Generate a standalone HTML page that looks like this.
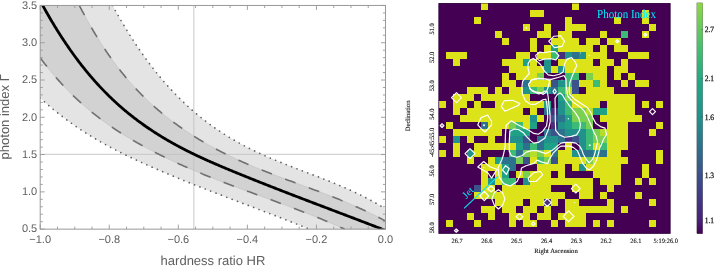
<!DOCTYPE html>
<html><head><meta charset="utf-8"><style>
html,body{margin:0;padding:0;background:#fff;}
body{width:714px;height:268px;overflow:hidden;}
svg{display:block;will-change:transform;text-rendering:geometricPrecision;}
</style></head><body>
<svg width="714" height="268" viewBox="0 0 714 268" xmlns="http://www.w3.org/2000/svg">
<defs>
<clipPath id="pc"><rect x="40.2" y="5.45" width="345.30" height="223.70000000000002"/></clipPath>
<clipPath id="ic"><rect x="438.5" y="3.1" width="231.99" height="230.67"/></clipPath>
<linearGradient id="cbg" x1="0" y1="0" x2="0" y2="1"><stop offset="0.0000" stop-color="#8fd744"/>
<stop offset="0.1780" stop-color="#4cc26c"/>
<stop offset="0.3339" stop-color="#22a884"/>
<stop offset="0.5071" stop-color="#218f8d"/>
<stop offset="0.7410" stop-color="#3b528b"/>
<stop offset="0.9402" stop-color="#48227a"/>
<stop offset="1.0000" stop-color="#440154"/></linearGradient>
</defs>
<g clip-path="url(#pc)">
<path d="M105.10,-8.86 L105.68,-7.73 L106.26,-6.60 L106.83,-5.48 L107.41,-4.36 L107.99,-3.24 L108.57,-2.14 L109.15,-1.03 L109.72,0.06 L110.30,1.15 L110.88,2.24 L111.46,3.32 L112.04,4.40 L112.61,5.47 L113.19,6.53 L113.77,7.59 L114.35,8.65 L114.93,9.70 L115.50,10.74 L116.08,11.78 L116.66,12.82 L117.24,13.85 L117.82,14.87 L118.39,15.89 L118.97,16.90 L119.55,17.91 L120.13,18.92 L120.70,19.91 L121.28,20.91 L121.86,21.90 L122.44,22.88 L123.02,23.86 L123.59,24.83 L124.17,25.80 L124.75,26.77 L125.33,27.73 L125.91,28.68 L126.48,29.63 L127.06,30.57 L127.64,31.51 L128.22,32.45 L128.80,33.38 L129.37,34.31 L129.95,35.23 L130.53,36.14 L131.11,37.05 L131.69,37.96 L132.26,38.86 L132.84,39.76 L133.42,40.65 L134.00,41.54 L134.58,42.42 L135.15,43.30 L135.73,44.18 L136.31,45.05 L136.89,45.91 L137.47,46.77 L138.04,47.63 L138.62,48.48 L139.20,49.33 L139.78,50.17 L140.36,51.01 L140.93,51.84 L141.51,52.67 L142.09,53.49 L142.67,54.31 L143.25,55.13 L143.82,55.94 L144.40,56.75 L144.98,57.55 L145.56,58.35 L146.13,59.15 L146.71,59.94 L147.29,60.72 L147.87,61.50 L148.45,62.28 L149.02,63.06 L149.60,63.82 L150.18,64.59 L150.76,65.35 L151.34,66.11 L151.91,66.86 L152.49,67.61 L153.07,68.35 L153.65,69.09 L154.23,69.83 L154.80,70.56 L155.38,71.29 L155.96,72.01 L156.54,72.73 L157.12,73.45 L157.69,74.16 L158.27,74.87 L158.85,75.58 L159.43,76.28 L160.01,76.97 L160.58,77.67 L161.16,78.36 L161.74,79.04 L162.32,79.72 L162.90,80.40 L163.47,81.07 L164.05,81.74 L164.63,82.41 L165.21,83.07 L165.79,83.73 L166.36,84.39 L166.94,85.04 L167.52,85.69 L168.10,86.33 L168.68,86.97 L169.25,87.61 L169.83,88.24 L170.41,88.87 L170.99,89.50 L171.56,90.12 L172.14,90.74 L172.72,91.35 L173.30,91.97 L173.88,92.57 L174.45,93.18 L175.03,93.78 L175.61,94.38 L176.19,94.97 L176.77,95.57 L177.34,96.15 L177.92,96.74 L178.50,97.32 L179.08,97.90 L179.66,98.47 L180.23,99.04 L180.81,99.61 L181.39,100.18 L181.97,100.74 L182.55,101.30 L183.12,101.85 L183.70,102.41 L184.28,102.95 L184.86,103.50 L185.44,104.04 L186.01,104.58 L186.59,105.12 L187.17,105.65 L187.75,106.18 L188.33,106.71 L188.90,107.23 L189.48,107.75 L190.06,108.27 L190.64,108.79 L191.22,109.30 L191.79,109.81 L192.37,110.31 L192.95,110.82 L193.53,111.32 L194.11,111.82 L194.68,112.31 L195.26,112.80 L195.84,113.29 L196.42,113.78 L196.99,114.26 L197.57,114.74 L198.15,115.22 L198.73,115.69 L199.31,116.17 L199.88,116.63 L200.46,117.10 L201.04,117.57 L201.62,118.03 L202.20,118.49 L202.77,118.94 L203.35,119.40 L203.93,119.85 L204.51,120.29 L205.09,120.74 L205.66,121.18 L206.24,121.62 L206.82,122.06 L207.40,122.50 L207.98,122.93 L208.55,123.36 L209.13,123.79 L209.71,124.21 L210.29,124.64 L210.87,125.06 L211.44,125.48 L212.02,125.89 L212.60,126.30 L213.18,126.72 L213.76,127.12 L214.33,127.53 L214.91,127.93 L215.49,128.34 L216.07,128.74 L216.65,129.13 L217.22,129.53 L217.80,129.92 L218.38,130.31 L218.96,130.70 L219.54,131.08 L220.11,131.47 L220.69,131.85 L221.27,132.23 L221.85,132.60 L222.43,132.98 L223.00,133.35 L223.58,133.72 L224.16,134.09 L224.74,134.46 L225.31,134.82 L225.89,135.18 L226.47,135.54 L227.05,135.90 L227.63,136.26 L228.20,136.61 L228.78,136.97 L229.36,137.32 L229.94,137.66 L230.52,138.01 L231.09,138.36 L231.67,138.70 L232.25,139.04 L232.83,139.38 L233.41,139.71 L233.98,140.05 L234.56,140.38 L235.14,140.71 L235.72,141.04 L236.30,141.37 L236.87,141.70 L237.45,142.02 L238.03,142.34 L238.61,142.66 L239.19,142.98 L239.76,143.30 L240.34,143.62 L240.92,143.93 L241.50,144.24 L242.08,144.55 L242.65,144.86 L243.23,145.17 L243.81,145.48 L244.39,145.78 L244.97,146.08 L245.54,146.39 L246.12,146.68 L246.70,146.98 L247.28,147.28 L247.86,147.57 L248.43,147.87 L249.01,148.16 L249.59,148.45 L250.17,148.74 L250.74,149.03 L251.32,149.31 L251.90,149.60 L252.48,149.88 L253.06,150.17 L253.63,150.45 L254.21,150.73 L254.79,151.00 L255.37,151.28 L255.95,151.56 L256.52,151.83 L257.10,152.10 L257.68,152.38 L258.26,152.65 L258.84,152.92 L259.41,153.19 L259.99,153.45 L260.57,153.72 L261.15,153.98 L261.73,154.25 L262.30,154.51 L262.88,154.77 L263.46,155.03 L264.04,155.29 L264.62,155.55 L265.19,155.81 L265.77,156.06 L266.35,156.32 L266.93,156.57 L267.51,156.82 L268.08,157.08 L268.66,157.33 L269.24,157.58 L269.82,157.83 L270.40,158.07 L270.97,158.32 L271.55,158.57 L272.13,158.81 L272.71,159.06 L273.29,159.30 L273.86,159.55 L274.44,159.79 L275.02,160.03 L275.60,160.27 L276.17,160.51 L276.75,160.75 L277.33,160.99 L277.91,161.22 L278.49,161.46 L279.06,161.70 L279.64,161.93 L280.22,162.17 L280.80,162.40 L281.38,162.64 L281.95,162.87 L282.53,163.10 L283.11,163.33 L283.69,163.56 L284.27,163.79 L284.84,164.03 L285.42,164.25 L286.00,164.48 L286.58,164.71 L287.16,164.94 L287.73,165.17 L288.31,165.39 L288.89,165.62 L289.47,165.85 L290.05,166.07 L290.62,166.30 L291.20,166.52 L291.78,166.75 L292.36,166.97 L292.94,167.20 L293.51,167.42 L294.09,167.64 L294.67,167.87 L295.25,168.09 L295.83,168.31 L296.40,168.53 L296.98,168.75 L297.56,168.98 L298.14,169.20 L298.72,169.42 L299.29,169.64 L299.87,169.86 L300.45,170.08 L301.03,170.30 L301.61,170.52 L302.18,170.74 L302.76,170.96 L303.34,171.18 L303.92,171.40 L304.49,171.62 L305.07,171.84 L305.65,172.06 L306.23,172.28 L306.81,172.50 L307.38,172.72 L307.96,172.94 L308.54,173.16 L309.12,173.38 L309.70,173.60 L310.27,173.82 L310.85,174.04 L311.43,174.26 L312.01,174.49 L312.59,174.71 L313.16,174.93 L313.74,175.15 L314.32,175.37 L314.90,175.59 L315.48,175.81 L316.05,176.04 L316.63,176.26 L317.21,176.48 L317.79,176.70 L318.37,176.93 L318.94,177.15 L319.52,177.37 L320.10,177.60 L320.68,177.82 L321.26,178.05 L321.83,178.27 L322.41,178.50 L322.99,178.73 L323.57,178.95 L324.15,179.18 L324.72,179.41 L325.30,179.63 L325.88,179.86 L326.46,180.09 L327.04,180.32 L327.61,180.55 L328.19,180.78 L328.77,181.01 L329.35,181.25 L329.92,181.48 L330.50,181.71 L331.08,181.94 L331.66,182.18 L332.24,182.41 L332.81,182.65 L333.39,182.89 L333.97,183.12 L334.55,183.36 L335.13,183.60 L335.70,183.84 L336.28,184.08 L336.86,184.32 L337.44,184.56 L338.02,184.80 L338.59,185.05 L339.17,185.29 L339.75,185.53 L340.33,185.78 L340.91,186.03 L341.48,186.27 L342.06,186.52 L342.64,186.77 L343.22,187.02 L343.80,187.27 L344.37,187.52 L344.95,187.78 L345.53,188.03 L346.11,188.29 L346.69,188.54 L347.26,188.80 L347.84,189.06 L348.42,189.32 L349.00,189.58 L349.58,189.84 L350.15,190.10 L350.73,190.37 L351.31,190.63 L351.89,190.90 L352.47,191.16 L353.04,191.43 L353.62,191.70 L354.20,191.97 L354.78,192.24 L355.35,192.52 L355.93,192.79 L356.51,193.07 L357.09,193.35 L357.67,193.62 L358.24,193.90 L358.82,194.18 L359.40,194.47 L359.98,194.75 L360.56,195.04 L361.13,195.32 L361.71,195.61 L362.29,195.90 L362.87,196.19 L363.45,196.48 L364.02,196.78 L364.60,197.07 L365.18,197.37 L365.76,197.67 L366.34,197.97 L366.91,198.27 L367.49,198.57 L368.07,198.88 L368.65,199.18 L369.23,199.49 L369.80,199.80 L370.38,200.11 L370.96,200.42 L371.54,200.74 L372.12,201.05 L372.69,201.37 L373.27,201.69 L373.85,202.01 L374.43,202.33 L375.01,202.66 L375.58,202.98 L376.16,203.31 L376.74,203.64 L377.32,203.97 L377.90,204.31 L378.47,204.64 L379.05,204.98 L379.63,205.32 L380.21,205.66 L380.78,206.00 L381.36,206.34 L381.94,206.69 L382.52,207.04 L383.10,207.39 L383.67,207.74 L384.25,208.10 L384.83,208.45 L385.41,208.81 L385.99,209.17 L386.56,209.53 L387.14,209.90 L387.72,210.27 L388.30,210.63 L388.88,211.01 L389.45,211.38 L390.03,211.75 L390.61,212.13 L391.19,212.51 L391.77,212.89 L392.34,213.27 L392.92,213.66 L393.50,214.05 L600.00,214.05 L600.00,600.00 L317.70,600.00 L317.70,232.53 L317.13,232.29 L316.55,232.06 L315.98,231.82 L315.41,231.59 L314.84,231.35 L314.26,231.12 L313.69,230.88 L313.12,230.65 L312.55,230.41 L311.97,230.18 L311.40,229.95 L310.83,229.71 L310.26,229.48 L309.68,229.25 L309.11,229.01 L308.54,228.78 L307.97,228.55 L307.39,228.32 L306.82,228.09 L306.25,227.86 L305.68,227.63 L305.10,227.40 L304.53,227.17 L303.96,226.94 L303.39,226.71 L302.81,226.48 L302.24,226.25 L301.67,226.02 L301.10,225.79 L300.52,225.56 L299.95,225.34 L299.38,225.11 L298.81,224.88 L298.23,224.65 L297.66,224.43 L297.09,224.20 L296.52,223.97 L295.94,223.75 L295.37,223.52 L294.80,223.29 L294.23,223.07 L293.65,222.84 L293.08,222.62 L292.51,222.39 L291.94,222.17 L291.36,221.94 L290.79,221.72 L290.22,221.49 L289.65,221.27 L289.07,221.05 L288.50,220.82 L287.93,220.60 L287.36,220.38 L286.78,220.15 L286.21,219.93 L285.64,219.71 L285.06,219.48 L284.49,219.26 L283.92,219.04 L283.35,218.82 L282.77,218.60 L282.20,218.37 L281.63,218.15 L281.06,217.93 L280.48,217.71 L279.91,217.49 L279.34,217.27 L278.77,217.05 L278.19,216.83 L277.62,216.61 L277.05,216.38 L276.48,216.16 L275.90,215.94 L275.33,215.72 L274.76,215.50 L274.19,215.28 L273.61,215.07 L273.04,214.85 L272.47,214.63 L271.90,214.41 L271.32,214.19 L270.75,213.97 L270.18,213.75 L269.61,213.53 L269.03,213.31 L268.46,213.09 L267.89,212.88 L267.32,212.66 L266.74,212.44 L266.17,212.22 L265.60,212.00 L265.03,211.78 L264.45,211.57 L263.88,211.35 L263.31,211.13 L262.74,210.91 L262.16,210.69 L261.59,210.48 L261.02,210.26 L260.45,210.04 L259.87,209.82 L259.30,209.61 L258.73,209.39 L258.16,209.17 L257.58,208.96 L257.01,208.74 L256.44,208.52 L255.87,208.30 L255.29,208.09 L254.72,207.87 L254.15,207.65 L253.57,207.44 L253.00,207.22 L252.43,207.00 L251.86,206.79 L251.28,206.57 L250.71,206.35 L250.14,206.14 L249.57,205.92 L248.99,205.70 L248.42,205.49 L247.85,205.27 L247.28,205.05 L246.70,204.84 L246.13,204.62 L245.56,204.40 L244.99,204.19 L244.41,203.97 L243.84,203.75 L243.27,203.54 L242.70,203.32 L242.12,203.10 L241.55,202.89 L240.98,202.67 L240.41,202.45 L239.83,202.24 L239.26,202.02 L238.69,201.80 L238.12,201.59 L237.54,201.37 L236.97,201.15 L236.40,200.93 L235.83,200.72 L235.25,200.50 L234.68,200.28 L234.11,200.07 L233.54,199.85 L232.96,199.63 L232.39,199.41 L231.82,199.20 L231.25,198.98 L230.67,198.76 L230.10,198.54 L229.53,198.33 L228.96,198.11 L228.38,197.89 L227.81,197.67 L227.24,197.45 L226.67,197.24 L226.09,197.02 L225.52,196.80 L224.95,196.58 L224.38,196.36 L223.80,196.14 L223.23,195.93 L222.66,195.71 L222.08,195.49 L221.51,195.27 L220.94,195.05 L220.37,194.83 L219.79,194.61 L219.22,194.39 L218.65,194.17 L218.08,193.95 L217.50,193.73 L216.93,193.51 L216.36,193.29 L215.79,193.07 L215.21,192.85 L214.64,192.63 L214.07,192.41 L213.50,192.19 L212.92,191.97 L212.35,191.75 L211.78,191.53 L211.21,191.31 L210.63,191.09 L210.06,190.86 L209.49,190.64 L208.92,190.42 L208.34,190.20 L207.77,189.98 L207.20,189.75 L206.63,189.53 L206.05,189.31 L205.48,189.08 L204.91,188.86 L204.34,188.64 L203.76,188.41 L203.19,188.19 L202.62,187.97 L202.05,187.74 L201.47,187.52 L200.90,187.29 L200.33,187.07 L199.76,186.84 L199.18,186.62 L198.61,186.39 L198.04,186.17 L197.47,185.94 L196.89,185.72 L196.32,185.49 L195.75,185.26 L195.18,185.04 L194.60,184.81 L194.03,184.58 L193.46,184.36 L192.89,184.13 L192.31,183.90 L191.74,183.67 L191.17,183.44 L190.59,183.21 L190.02,182.99 L189.45,182.76 L188.88,182.53 L188.30,182.30 L187.73,182.07 L187.16,181.84 L186.59,181.61 L186.01,181.38 L185.44,181.15 L184.87,180.91 L184.30,180.68 L183.72,180.45 L183.15,180.22 L182.58,179.99 L182.01,179.75 L181.43,179.52 L180.86,179.29 L180.29,179.06 L179.72,178.82 L179.14,178.59 L178.57,178.35 L178.00,178.12 L177.43,177.88 L176.85,177.65 L176.28,177.41 L175.71,177.18 L175.14,176.94 L174.56,176.70 L173.99,176.47 L173.42,176.23 L172.85,175.99 L172.27,175.76 L171.70,175.52 L171.13,175.28 L170.56,175.04 L169.98,174.80 L169.41,174.56 L168.84,174.32 L168.27,174.08 L167.69,173.84 L167.12,173.60 L166.55,173.36 L165.98,173.12 L165.40,172.88 L164.83,172.63 L164.26,172.39 L163.69,172.15 L163.11,171.90 L162.54,171.66 L161.97,171.42 L161.40,171.17 L160.82,170.93 L160.25,170.68 L159.68,170.44 L159.11,170.19 L158.53,169.94 L157.96,169.70 L157.39,169.45 L156.81,169.20 L156.24,168.95 L155.67,168.71 L155.10,168.46 L154.52,168.21 L153.95,167.96 L153.38,167.71 L152.81,167.46 L152.23,167.21 L151.66,166.96 L151.09,166.70 L150.52,166.45 L149.94,166.20 L149.37,165.95 L148.80,165.69 L148.23,165.44 L147.65,165.18 L147.08,164.93 L146.51,164.68 L145.94,164.42 L145.36,164.16 L144.79,163.91 L144.22,163.65 L143.65,163.39 L143.07,163.13 L142.50,162.88 L141.93,162.62 L141.36,162.36 L140.78,162.10 L140.21,161.84 L139.64,161.58 L139.07,161.31 L138.49,161.05 L137.92,160.79 L137.35,160.52 L136.78,160.26 L136.20,160.00 L135.63,159.73 L135.06,159.46 L134.49,159.20 L133.91,158.93 L133.34,158.66 L132.77,158.39 L132.20,158.12 L131.62,157.85 L131.05,157.58 L130.48,157.31 L129.91,157.04 L129.33,156.76 L128.76,156.49 L128.19,156.21 L127.62,155.94 L127.04,155.66 L126.47,155.39 L125.90,155.11 L125.32,154.83 L124.75,154.55 L124.18,154.27 L123.61,153.99 L123.03,153.70 L122.46,153.42 L121.89,153.14 L121.32,152.85 L120.74,152.57 L120.17,152.28 L119.60,151.99 L119.03,151.70 L118.45,151.41 L117.88,151.12 L117.31,150.83 L116.74,150.54 L116.16,150.24 L115.59,149.95 L115.02,149.65 L114.45,149.35 L113.87,149.06 L113.30,148.76 L112.73,148.46 L112.16,148.16 L111.58,147.85 L111.01,147.55 L110.44,147.25 L109.87,146.94 L109.29,146.63 L108.72,146.33 L108.15,146.02 L107.58,145.71 L107.00,145.39 L106.43,145.08 L105.86,144.77 L105.29,144.45 L104.71,144.14 L104.14,143.82 L103.57,143.50 L103.00,143.18 L102.42,142.86 L101.85,142.54 L101.28,142.21 L100.71,141.89 L100.13,141.56 L99.56,141.23 L98.99,140.90 L98.42,140.57 L97.84,140.24 L97.27,139.91 L96.70,139.57 L96.13,139.24 L95.55,138.90 L94.98,138.56 L94.41,138.22 L93.83,137.88 L93.26,137.53 L92.69,137.19 L92.12,136.84 L91.54,136.50 L90.97,136.15 L90.40,135.80 L89.83,135.44 L89.25,135.09 L88.68,134.74 L88.11,134.38 L87.54,134.02 L86.96,133.66 L86.39,133.30 L85.82,132.94 L85.25,132.57 L84.67,132.21 L84.10,131.84 L83.53,131.47 L82.96,131.10 L82.38,130.72 L81.81,130.35 L81.24,129.97 L80.67,129.60 L80.09,129.22 L79.52,128.84 L78.95,128.45 L78.38,128.07 L77.80,127.68 L77.23,127.29 L76.66,126.90 L76.09,126.51 L75.51,126.12 L74.94,125.72 L74.37,125.33 L73.80,124.93 L73.22,124.53 L72.65,124.12 L72.08,123.72 L71.51,123.31 L70.93,122.91 L70.36,122.50 L69.79,122.08 L69.22,121.67 L68.64,121.25 L68.07,120.84 L67.50,120.42 L66.93,120.00 L66.35,119.57 L65.78,119.15 L65.21,118.72 L64.64,118.29 L64.06,117.86 L63.49,117.43 L62.92,116.99 L62.34,116.55 L61.77,116.11 L61.20,115.67 L60.63,115.23 L60.05,114.78 L59.48,114.34 L58.91,113.89 L58.34,113.43 L57.76,112.98 L57.19,112.52 L56.62,112.06 L56.05,111.60 L55.47,111.14 L54.90,110.68 L54.33,110.21 L53.76,109.74 L53.18,109.27 L52.61,108.80 L52.04,108.32 L51.47,107.84 L50.89,107.36 L50.32,106.88 L49.75,106.39 L49.18,105.91 L48.60,105.42 L48.03,104.93 L47.46,104.43 L46.89,103.94 L46.31,103.44 L45.74,102.94 L45.17,102.43 L44.60,101.93 L44.02,101.42 L43.45,100.91 L42.88,100.39 L42.31,99.88 L41.73,99.36 L41.16,98.84 L40.59,98.32 L40.02,97.79 L39.44,97.27 L38.87,96.74 L38.30,96.20 L37.73,95.67 L37.15,95.13 L36.58,94.59 L36.01,94.05 L35.44,93.50 L34.86,92.95 L34.29,92.40 L33.72,91.85 L33.15,91.30 L32.57,90.74 L32.00,90.18 L-100.00,90.18 L-100.00,-300.00 L105.10,-300.00 Z" fill="#e4e4e4"/>
<path d="M70.80,-11.97 L71.44,-10.60 L72.09,-9.25 L72.73,-7.90 L73.37,-6.57 L74.01,-5.24 L74.66,-3.92 L75.30,-2.61 L75.94,-1.30 L76.59,-0.01 L77.23,1.28 L77.87,2.56 L78.51,3.83 L79.16,5.09 L79.80,6.34 L80.44,7.59 L81.09,8.83 L81.73,10.06 L82.37,11.28 L83.01,12.49 L83.66,13.70 L84.30,14.89 L84.94,16.08 L85.59,17.27 L86.23,18.44 L86.87,19.61 L87.52,20.77 L88.16,21.92 L88.80,23.06 L89.44,24.20 L90.09,25.33 L90.73,26.45 L91.37,27.56 L92.02,28.67 L92.66,29.76 L93.30,30.86 L93.94,31.94 L94.59,33.02 L95.23,34.09 L95.87,35.15 L96.52,36.20 L97.16,37.25 L97.80,38.29 L98.44,39.33 L99.09,40.35 L99.73,41.37 L100.37,42.39 L101.02,43.39 L101.66,44.39 L102.30,45.38 L102.94,46.37 L103.59,47.35 L104.23,48.32 L104.87,49.29 L105.52,50.24 L106.16,51.20 L106.80,52.14 L107.44,53.08 L108.09,54.01 L108.73,54.94 L109.37,55.86 L110.02,56.78 L110.66,57.68 L111.30,58.58 L111.94,59.48 L112.59,60.37 L113.23,61.25 L113.87,62.13 L114.52,63.00 L115.16,63.86 L115.80,64.72 L116.44,65.57 L117.09,66.42 L117.73,67.26 L118.37,68.09 L119.02,68.92 L119.66,69.75 L120.30,70.56 L120.95,71.38 L121.59,72.18 L122.23,72.98 L122.87,73.78 L123.52,74.57 L124.16,75.35 L124.80,76.13 L125.45,76.90 L126.09,77.67 L126.73,78.43 L127.37,79.19 L128.02,79.94 L128.66,80.69 L129.30,81.43 L129.95,82.17 L130.59,82.90 L131.23,83.63 L131.87,84.35 L132.52,85.06 L133.16,85.78 L133.80,86.48 L134.45,87.18 L135.09,87.88 L135.73,88.57 L136.37,89.26 L137.02,89.94 L137.66,90.62 L138.30,91.29 L138.95,91.96 L139.59,92.63 L140.23,93.29 L140.87,93.94 L141.52,94.59 L142.16,95.24 L142.80,95.88 L143.45,96.52 L144.09,97.15 L144.73,97.78 L145.37,98.41 L146.02,99.03 L146.66,99.64 L147.30,100.26 L147.95,100.86 L148.59,101.47 L149.23,102.07 L149.87,102.67 L150.52,103.26 L151.16,103.85 L151.80,104.43 L152.45,105.01 L153.09,105.59 L153.73,106.17 L154.38,106.74 L155.02,107.30 L155.66,107.87 L156.30,108.43 L156.95,108.98 L157.59,109.53 L158.23,110.08 L158.88,110.63 L159.52,111.17 L160.16,111.71 L160.80,112.25 L161.45,112.78 L162.09,113.31 L162.73,113.83 L163.38,114.36 L164.02,114.88 L164.66,115.39 L165.30,115.91 L165.95,116.42 L166.59,116.93 L167.23,117.43 L167.88,117.94 L168.52,118.43 L169.16,118.93 L169.80,119.43 L170.45,119.92 L171.09,120.41 L171.73,120.89 L172.38,121.38 L173.02,121.86 L173.66,122.34 L174.30,122.81 L174.95,123.29 L175.59,123.76 L176.23,124.23 L176.88,124.69 L177.52,125.16 L178.16,125.62 L178.80,126.08 L179.45,126.53 L180.09,126.99 L180.73,127.44 L181.38,127.89 L182.02,128.34 L182.66,128.78 L183.31,129.23 L183.95,129.67 L184.59,130.11 L185.23,130.54 L185.88,130.98 L186.52,131.41 L187.16,131.84 L187.81,132.27 L188.45,132.69 L189.09,133.11 L189.73,133.53 L190.38,133.95 L191.02,134.37 L191.66,134.78 L192.31,135.20 L192.95,135.61 L193.59,136.02 L194.23,136.42 L194.88,136.83 L195.52,137.23 L196.16,137.63 L196.81,138.03 L197.45,138.42 L198.09,138.82 L198.73,139.21 L199.38,139.60 L200.02,139.99 L200.66,140.37 L201.31,140.76 L201.95,141.14 L202.59,141.52 L203.23,141.90 L203.88,142.27 L204.52,142.65 L205.16,143.02 L205.81,143.39 L206.45,143.76 L207.09,144.13 L207.73,144.49 L208.38,144.86 L209.02,145.22 L209.66,145.58 L210.31,145.94 L210.95,146.29 L211.59,146.65 L212.23,147.00 L212.88,147.35 L213.52,147.70 L214.16,148.05 L214.81,148.40 L215.45,148.74 L216.09,149.09 L216.74,149.43 L217.38,149.77 L218.02,150.11 L218.66,150.44 L219.31,150.78 L219.95,151.11 L220.59,151.44 L221.24,151.78 L221.88,152.10 L222.52,152.43 L223.16,152.76 L223.81,153.08 L224.45,153.40 L225.09,153.73 L225.74,154.05 L226.38,154.37 L227.02,154.68 L227.66,155.00 L228.31,155.31 L228.95,155.63 L229.59,155.94 L230.24,156.25 L230.88,156.56 L231.52,156.86 L232.16,157.17 L232.81,157.47 L233.45,157.78 L234.09,158.08 L234.74,158.38 L235.38,158.68 L236.02,158.98 L236.66,159.28 L237.31,159.57 L237.95,159.87 L238.59,160.16 L239.24,160.45 L239.88,160.75 L240.52,161.04 L241.16,161.32 L241.81,161.61 L242.45,161.90 L243.09,162.18 L243.74,162.47 L244.38,162.75 L245.02,163.03 L245.66,163.32 L246.31,163.60 L246.95,163.87 L247.59,164.15 L248.24,164.43 L248.88,164.71 L249.52,164.98 L250.17,165.26 L250.81,165.53 L251.45,165.80 L252.09,166.07 L252.74,166.34 L253.38,166.61 L254.02,166.88 L254.67,167.15 L255.31,167.41 L255.95,167.68 L256.59,167.95 L257.24,168.21 L257.88,168.47 L258.52,168.74 L259.17,169.00 L259.81,169.26 L260.45,169.52 L261.09,169.78 L261.74,170.04 L262.38,170.29 L263.02,170.55 L263.67,170.81 L264.31,171.06 L264.95,171.32 L265.59,171.57 L266.24,171.83 L266.88,172.08 L267.52,172.33 L268.17,172.59 L268.81,172.84 L269.45,173.09 L270.09,173.34 L270.74,173.59 L271.38,173.84 L272.02,174.08 L272.67,174.33 L273.31,174.58 L273.95,174.83 L274.59,175.07 L275.24,175.32 L275.88,175.56 L276.52,175.81 L277.17,176.05 L277.81,176.30 L278.45,176.54 L279.09,176.78 L279.74,177.03 L280.38,177.27 L281.02,177.51 L281.67,177.75 L282.31,177.99 L282.95,178.24 L283.60,178.48 L284.24,178.72 L284.88,178.96 L285.52,179.20 L286.17,179.44 L286.81,179.67 L287.45,179.91 L288.10,180.15 L288.74,180.39 L289.38,180.63 L290.02,180.87 L290.67,181.11 L291.31,181.34 L291.95,181.58 L292.60,181.82 L293.24,182.06 L293.88,182.29 L294.52,182.53 L295.17,182.77 L295.81,183.00 L296.45,183.24 L297.10,183.48 L297.74,183.71 L298.38,183.95 L299.02,184.19 L299.67,184.43 L300.31,184.66 L300.95,184.90 L301.60,185.14 L302.24,185.37 L302.88,185.61 L303.52,185.85 L304.17,186.08 L304.81,186.32 L305.45,186.56 L306.10,186.79 L306.74,187.03 L307.38,187.27 L308.02,187.51 L308.67,187.75 L309.31,187.98 L309.95,188.22 L310.60,188.46 L311.24,188.70 L311.88,188.94 L312.53,189.18 L313.17,189.42 L313.81,189.66 L314.45,189.90 L315.10,190.14 L315.74,190.38 L316.38,190.62 L317.03,190.86 L317.67,191.10 L318.31,191.34 L318.95,191.59 L319.60,191.83 L320.24,192.07 L320.88,192.31 L321.53,192.56 L322.17,192.80 L322.81,193.05 L323.45,193.29 L324.10,193.54 L324.74,193.79 L325.38,194.03 L326.03,194.28 L326.67,194.53 L327.31,194.78 L327.95,195.02 L328.60,195.27 L329.24,195.52 L329.88,195.77 L330.53,196.03 L331.17,196.28 L331.81,196.53 L332.45,196.78 L333.10,197.04 L333.74,197.29 L334.38,197.55 L335.03,197.80 L335.67,198.06 L336.31,198.31 L336.95,198.57 L337.60,198.83 L338.24,199.09 L338.88,199.35 L339.53,199.61 L340.17,199.87 L340.81,200.13 L341.45,200.40 L342.10,200.66 L342.74,200.93 L343.38,201.19 L344.03,201.46 L344.67,201.73 L345.31,201.99 L345.96,202.26 L346.60,202.53 L347.24,202.81 L347.88,203.08 L348.53,203.35 L349.17,203.62 L349.81,203.90 L350.46,204.18 L351.10,204.45 L351.74,204.73 L352.38,205.01 L353.03,205.29 L353.67,205.57 L354.31,205.85 L354.96,206.13 L355.60,206.42 L356.24,206.70 L356.88,206.99 L357.53,207.28 L358.17,207.57 L358.81,207.86 L359.46,208.15 L360.10,208.44 L360.74,208.73 L361.38,209.03 L362.03,209.32 L362.67,209.62 L363.31,209.92 L363.96,210.22 L364.60,210.52 L365.24,210.82 L365.88,211.12 L366.53,211.43 L367.17,211.74 L367.81,212.04 L368.46,212.35 L369.10,212.66 L369.74,212.97 L370.38,213.28 L371.03,213.60 L371.67,213.91 L372.31,214.23 L372.96,214.55 L373.60,214.87 L374.24,215.19 L374.88,215.51 L375.53,215.84 L376.17,216.16 L376.81,216.49 L377.46,216.82 L378.10,217.15 L378.74,217.48 L379.39,217.81 L380.03,218.15 L380.67,218.49 L381.31,218.82 L381.96,219.16 L382.60,219.50 L383.24,219.85 L383.89,220.19 L384.53,220.54 L385.17,220.89 L385.81,221.23 L386.46,221.59 L387.10,221.94 L387.74,222.29 L388.39,222.65 L389.03,223.01 L389.67,223.37 L390.31,223.73 L390.96,224.09 L391.60,224.46 L600.00,224.46 L600.00,600.00 L354.30,600.00 L354.30,233.64 L353.66,233.34 L353.01,233.03 L352.37,232.72 L351.72,232.42 L351.08,232.11 L350.43,231.81 L349.79,231.51 L349.15,231.21 L348.50,230.91 L347.86,230.61 L347.21,230.31 L346.57,230.01 L345.92,229.72 L345.28,229.42 L344.64,229.13 L343.99,228.83 L343.35,228.54 L342.70,228.25 L342.06,227.96 L341.41,227.67 L340.77,227.38 L340.13,227.09 L339.48,226.80 L338.84,226.52 L338.19,226.23 L337.55,225.95 L336.90,225.66 L336.26,225.38 L335.62,225.10 L334.97,224.82 L334.33,224.54 L333.68,224.26 L333.04,223.98 L332.39,223.70 L331.75,223.42 L331.11,223.15 L330.46,222.87 L329.82,222.60 L329.17,222.32 L328.53,222.05 L327.88,221.77 L327.24,221.50 L326.60,221.23 L325.95,220.96 L325.31,220.69 L324.66,220.42 L324.02,220.15 L323.37,219.89 L322.73,219.62 L322.09,219.35 L321.44,219.09 L320.80,218.82 L320.15,218.56 L319.51,218.29 L318.86,218.03 L318.22,217.77 L317.58,217.50 L316.93,217.24 L316.29,216.98 L315.64,216.72 L315.00,216.46 L314.35,216.20 L313.71,215.95 L313.07,215.69 L312.42,215.43 L311.78,215.17 L311.13,214.92 L310.49,214.66 L309.84,214.41 L309.20,214.15 L308.56,213.90 L307.91,213.65 L307.27,213.39 L306.62,213.14 L305.98,212.89 L305.33,212.64 L304.69,212.39 L304.05,212.14 L303.40,211.89 L302.76,211.64 L302.11,211.39 L301.47,211.14 L300.82,210.89 L300.18,210.64 L299.54,210.40 L298.89,210.15 L298.25,209.90 L297.60,209.66 L296.96,209.41 L296.31,209.17 L295.67,208.92 L295.03,208.68 L294.38,208.43 L293.74,208.19 L293.09,207.95 L292.45,207.70 L291.80,207.46 L291.16,207.22 L290.52,206.98 L289.87,206.74 L289.23,206.49 L288.58,206.25 L287.94,206.01 L287.29,205.77 L286.65,205.53 L286.01,205.29 L285.36,205.05 L284.72,204.81 L284.07,204.57 L283.43,204.34 L282.78,204.10 L282.14,203.86 L281.50,203.62 L280.85,203.38 L280.21,203.15 L279.56,202.91 L278.92,202.67 L278.27,202.43 L277.63,202.20 L276.99,201.96 L276.34,201.72 L275.70,201.49 L275.05,201.25 L274.41,201.02 L273.76,200.78 L273.12,200.54 L272.48,200.31 L271.83,200.07 L271.19,199.84 L270.54,199.60 L269.90,199.37 L269.25,199.13 L268.61,198.90 L267.97,198.66 L267.32,198.43 L266.68,198.19 L266.03,197.96 L265.39,197.73 L264.74,197.49 L264.10,197.26 L263.46,197.02 L262.81,196.79 L262.17,196.55 L261.52,196.32 L260.88,196.08 L260.23,195.85 L259.59,195.62 L258.95,195.38 L258.30,195.15 L257.66,194.91 L257.01,194.68 L256.37,194.44 L255.72,194.21 L255.08,193.97 L254.44,193.74 L253.79,193.51 L253.15,193.27 L252.50,193.04 L251.86,192.80 L251.21,192.57 L250.57,192.33 L249.93,192.09 L249.28,191.86 L248.64,191.62 L247.99,191.39 L247.35,191.15 L246.70,190.92 L246.06,190.68 L245.42,190.44 L244.77,190.21 L244.13,189.97 L243.48,189.73 L242.84,189.50 L242.19,189.26 L241.55,189.02 L240.91,188.78 L240.26,188.55 L239.62,188.31 L238.97,188.07 L238.33,187.83 L237.68,187.59 L237.04,187.35 L236.40,187.11 L235.75,186.87 L235.11,186.63 L234.46,186.39 L233.82,186.15 L233.17,185.91 L232.53,185.67 L231.89,185.43 L231.24,185.19 L230.60,184.95 L229.95,184.70 L229.31,184.46 L228.66,184.22 L228.02,183.98 L227.38,183.73 L226.73,183.49 L226.09,183.24 L225.44,183.00 L224.80,182.75 L224.15,182.51 L223.51,182.26 L222.87,182.01 L222.22,181.77 L221.58,181.52 L220.93,181.27 L220.29,181.02 L219.64,180.78 L219.00,180.53 L218.36,180.28 L217.71,180.03 L217.07,179.78 L216.42,179.53 L215.78,179.27 L215.13,179.02 L214.49,178.77 L213.85,178.52 L213.20,178.26 L212.56,178.01 L211.91,177.75 L211.27,177.50 L210.62,177.24 L209.98,176.99 L209.34,176.73 L208.69,176.47 L208.05,176.22 L207.40,175.96 L206.76,175.70 L206.11,175.44 L205.47,175.18 L204.83,174.92 L204.18,174.66 L203.54,174.39 L202.89,174.13 L202.25,173.87 L201.60,173.60 L200.96,173.34 L200.32,173.07 L199.67,172.81 L199.03,172.54 L198.38,172.27 L197.74,172.00 L197.09,171.74 L196.45,171.47 L195.81,171.20 L195.16,170.93 L194.52,170.65 L193.87,170.38 L193.23,170.11 L192.58,169.83 L191.94,169.56 L191.29,169.29 L190.65,169.01 L190.01,168.73 L189.36,168.45 L188.72,168.18 L188.07,167.90 L187.43,167.62 L186.78,167.34 L186.14,167.05 L185.50,166.77 L184.85,166.49 L184.21,166.20 L183.56,165.92 L182.92,165.63 L182.27,165.35 L181.63,165.06 L180.99,164.77 L180.34,164.48 L179.70,164.19 L179.05,163.90 L178.41,163.61 L177.76,163.32 L177.12,163.02 L176.48,162.73 L175.83,162.43 L175.19,162.14 L174.54,161.84 L173.90,161.54 L173.25,161.24 L172.61,160.94 L171.97,160.64 L171.32,160.34 L170.68,160.03 L170.03,159.73 L169.39,159.42 L168.74,159.12 L168.10,158.81 L167.46,158.50 L166.81,158.19 L166.17,157.88 L165.52,157.57 L164.88,157.26 L164.23,156.94 L163.59,156.63 L162.95,156.31 L162.30,156.00 L161.66,155.68 L161.01,155.36 L160.37,155.04 L159.72,154.72 L159.08,154.40 L158.44,154.07 L157.79,153.75 L157.15,153.42 L156.50,153.10 L155.86,152.77 L155.21,152.44 L154.57,152.11 L153.93,151.78 L153.28,151.45 L152.64,151.11 L151.99,150.78 L151.35,150.44 L150.70,150.10 L150.06,149.77 L149.42,149.43 L148.77,149.08 L148.13,148.74 L147.48,148.40 L146.84,148.05 L146.19,147.71 L145.55,147.36 L144.91,147.01 L144.26,146.66 L143.62,146.31 L142.97,145.96 L142.33,145.61 L141.68,145.25 L141.04,144.90 L140.40,144.54 L139.75,144.18 L139.11,143.82 L138.46,143.46 L137.82,143.09 L137.17,142.73 L136.53,142.36 L135.89,142.00 L135.24,141.63 L134.60,141.26 L133.95,140.89 L133.31,140.52 L132.66,140.14 L132.02,139.77 L131.38,139.39 L130.73,139.01 L130.09,138.63 L129.44,138.25 L128.80,137.86 L128.15,137.48 L127.51,137.09 L126.87,136.70 L126.22,136.31 L125.58,135.92 L124.93,135.52 L124.29,135.13 L123.64,134.73 L123.00,134.33 L122.36,133.93 L121.71,133.52 L121.07,133.12 L120.42,132.71 L119.78,132.30 L119.13,131.89 L118.49,131.47 L117.85,131.06 L117.20,130.64 L116.56,130.22 L115.91,129.79 L115.27,129.37 L114.62,128.94 L113.98,128.51 L113.34,128.08 L112.69,127.65 L112.05,127.21 L111.40,126.77 L110.76,126.33 L110.11,125.89 L109.47,125.44 L108.83,124.99 L108.18,124.54 L107.54,124.09 L106.89,123.64 L106.25,123.18 L105.60,122.72 L104.96,122.25 L104.32,121.79 L103.67,121.32 L103.03,120.85 L102.38,120.37 L101.74,119.89 L101.09,119.42 L100.45,118.93 L99.81,118.45 L99.16,117.96 L98.52,117.47 L97.87,116.97 L97.23,116.48 L96.58,115.98 L95.94,115.47 L95.30,114.97 L94.65,114.46 L94.01,113.95 L93.36,113.43 L92.72,112.92 L92.07,112.39 L91.43,111.87 L90.79,111.34 L90.14,110.81 L89.50,110.28 L88.85,109.74 L88.21,109.20 L87.56,108.66 L86.92,108.11 L86.28,107.56 L85.63,107.01 L84.99,106.45 L84.34,105.89 L83.70,105.33 L83.05,104.76 L82.41,104.19 L81.77,103.61 L81.12,103.03 L80.48,102.45 L79.83,101.87 L79.19,101.28 L78.54,100.69 L77.90,100.09 L77.26,99.49 L76.61,98.89 L75.97,98.28 L75.32,97.67 L74.68,97.05 L74.03,96.44 L73.39,95.81 L72.75,95.19 L72.10,94.56 L71.46,93.92 L70.81,93.28 L70.17,92.64 L69.52,91.99 L68.88,91.34 L68.24,90.69 L67.59,90.03 L66.95,89.37 L66.30,88.70 L65.66,88.03 L65.01,87.36 L64.37,86.68 L63.73,85.99 L63.08,85.31 L62.44,84.61 L61.79,83.92 L61.15,83.22 L60.50,82.51 L59.86,81.80 L59.22,81.09 L58.57,80.37 L57.93,79.65 L57.28,78.92 L56.64,78.19 L55.99,77.45 L55.35,76.71 L54.71,75.96 L54.06,75.21 L53.42,74.46 L52.77,73.70 L52.13,72.94 L51.48,72.17 L50.84,71.39 L50.20,70.61 L49.55,69.83 L48.91,69.04 L48.26,68.25 L47.62,67.45 L46.97,66.65 L46.33,65.84 L45.69,65.03 L45.04,64.21 L44.40,63.39 L43.75,62.56 L43.11,61.73 L42.46,60.89 L41.82,60.05 L41.18,59.20 L40.53,58.35 L39.89,57.49 L39.24,56.63 L38.60,55.76 L37.95,54.88 L37.31,54.00 L36.67,53.12 L36.02,52.23 L35.38,51.33 L34.73,50.43 L34.09,49.53 L33.44,48.62 L32.80,47.70 L-100.00,47.70 L-100.00,-300.00 L70.80,-300.00 Z" fill="#d2d2d2"/>
<path d="M70.80,-11.97 L71.44,-10.60 L72.09,-9.25 L72.73,-7.90 L73.37,-6.57 L74.01,-5.24 L74.66,-3.92 L75.30,-2.61 L75.94,-1.30 L76.59,-0.01 L77.23,1.28 L77.87,2.56 L78.51,3.83 L79.16,5.09 L79.80,6.34 L80.44,7.59 L81.09,8.83 L81.73,10.06 L82.37,11.28 L83.01,12.49 L83.66,13.70 L84.30,14.89 L84.94,16.08 L85.59,17.27 L86.23,18.44 L86.87,19.61 L87.52,20.77 L88.16,21.92 L88.80,23.06 L89.44,24.20 L90.09,25.33 L90.73,26.45 L91.37,27.56 L92.02,28.67 L92.66,29.76 L93.30,30.86 L93.94,31.94 L94.59,33.02 L95.23,34.09 L95.87,35.15 L96.52,36.20 L97.16,37.25 L97.80,38.29 L98.44,39.33 L99.09,40.35 L99.73,41.37 L100.37,42.39 L101.02,43.39 L101.66,44.39 L102.30,45.38 L102.94,46.37 L103.59,47.35 L104.23,48.32 L104.87,49.29 L105.52,50.24 L106.16,51.20 L106.80,52.14 L107.44,53.08 L108.09,54.01 L108.73,54.94 L109.37,55.86 L110.02,56.78 L110.66,57.68 L111.30,58.58 L111.94,59.48 L112.59,60.37 L113.23,61.25 L113.87,62.13 L114.52,63.00 L115.16,63.86 L115.80,64.72 L116.44,65.57 L117.09,66.42 L117.73,67.26 L118.37,68.09 L119.02,68.92 L119.66,69.75 L120.30,70.56 L120.95,71.38 L121.59,72.18 L122.23,72.98 L122.87,73.78 L123.52,74.57 L124.16,75.35 L124.80,76.13 L125.45,76.90 L126.09,77.67 L126.73,78.43 L127.37,79.19 L128.02,79.94 L128.66,80.69 L129.30,81.43 L129.95,82.17 L130.59,82.90 L131.23,83.63 L131.87,84.35 L132.52,85.06 L133.16,85.78 L133.80,86.48 L134.45,87.18 L135.09,87.88 L135.73,88.57 L136.37,89.26 L137.02,89.94 L137.66,90.62 L138.30,91.29 L138.95,91.96 L139.59,92.63 L140.23,93.29 L140.87,93.94 L141.52,94.59 L142.16,95.24 L142.80,95.88 L143.45,96.52 L144.09,97.15 L144.73,97.78 L145.37,98.41 L146.02,99.03 L146.66,99.64 L147.30,100.26 L147.95,100.86 L148.59,101.47 L149.23,102.07 L149.87,102.67 L150.52,103.26 L151.16,103.85 L151.80,104.43 L152.45,105.01 L153.09,105.59 L153.73,106.17 L154.38,106.74 L155.02,107.30 L155.66,107.87 L156.30,108.43 L156.95,108.98 L157.59,109.53 L158.23,110.08 L158.88,110.63 L159.52,111.17 L160.16,111.71 L160.80,112.25 L161.45,112.78 L162.09,113.31 L162.73,113.83 L163.38,114.36 L164.02,114.88 L164.66,115.39 L165.30,115.91 L165.95,116.42 L166.59,116.93 L167.23,117.43 L167.88,117.94 L168.52,118.43 L169.16,118.93 L169.80,119.43 L170.45,119.92 L171.09,120.41 L171.73,120.89 L172.38,121.38 L173.02,121.86 L173.66,122.34 L174.30,122.81 L174.95,123.29 L175.59,123.76 L176.23,124.23 L176.88,124.69 L177.52,125.16 L178.16,125.62 L178.80,126.08 L179.45,126.53 L180.09,126.99 L180.73,127.44 L181.38,127.89 L182.02,128.34 L182.66,128.78 L183.31,129.23 L183.95,129.67 L184.59,130.11 L185.23,130.54 L185.88,130.98 L186.52,131.41 L187.16,131.84 L187.81,132.27 L188.45,132.69 L189.09,133.11 L189.73,133.53 L190.38,133.95 L191.02,134.37 L191.66,134.78 L192.31,135.20 L192.95,135.61 L193.59,136.02 L194.23,136.42 L194.88,136.83 L195.52,137.23 L196.16,137.63 L196.81,138.03 L197.45,138.42 L198.09,138.82 L198.73,139.21 L199.38,139.60 L200.02,139.99 L200.66,140.37 L201.31,140.76 L201.95,141.14 L202.59,141.52 L203.23,141.90 L203.88,142.27 L204.52,142.65 L205.16,143.02 L205.81,143.39 L206.45,143.76 L207.09,144.13 L207.73,144.49 L208.38,144.86 L209.02,145.22 L209.66,145.58 L210.31,145.94 L210.95,146.29 L211.59,146.65 L212.23,147.00 L212.88,147.35 L213.52,147.70 L214.16,148.05 L214.81,148.40 L215.45,148.74 L216.09,149.09 L216.74,149.43 L217.38,149.77 L218.02,150.11 L218.66,150.44 L219.31,150.78 L219.95,151.11 L220.59,151.44 L221.24,151.78 L221.88,152.10 L222.52,152.43 L223.16,152.76 L223.81,153.08 L224.45,153.40 L225.09,153.73 L225.74,154.05 L226.38,154.37 L227.02,154.68 L227.66,155.00 L228.31,155.31 L228.95,155.63 L229.59,155.94 L230.24,156.25 L230.88,156.56 L231.52,156.86 L232.16,157.17 L232.81,157.47 L233.45,157.78 L234.09,158.08 L234.74,158.38 L235.38,158.68 L236.02,158.98 L236.66,159.28 L237.31,159.57 L237.95,159.87 L238.59,160.16 L239.24,160.45 L239.88,160.75 L240.52,161.04 L241.16,161.32 L241.81,161.61 L242.45,161.90 L243.09,162.18 L243.74,162.47 L244.38,162.75 L245.02,163.03 L245.66,163.32 L246.31,163.60 L246.95,163.87 L247.59,164.15 L248.24,164.43 L248.88,164.71 L249.52,164.98 L250.17,165.26 L250.81,165.53 L251.45,165.80 L252.09,166.07 L252.74,166.34 L253.38,166.61 L254.02,166.88 L254.67,167.15 L255.31,167.41 L255.95,167.68 L256.59,167.95 L257.24,168.21 L257.88,168.47 L258.52,168.74 L259.17,169.00 L259.81,169.26 L260.45,169.52 L261.09,169.78 L261.74,170.04 L262.38,170.29 L263.02,170.55 L263.67,170.81 L264.31,171.06 L264.95,171.32 L265.59,171.57 L266.24,171.83 L266.88,172.08 L267.52,172.33 L268.17,172.59 L268.81,172.84 L269.45,173.09 L270.09,173.34 L270.74,173.59 L271.38,173.84 L272.02,174.08 L272.67,174.33 L273.31,174.58 L273.95,174.83 L274.59,175.07 L275.24,175.32 L275.88,175.56 L276.52,175.81 L277.17,176.05 L277.81,176.30 L278.45,176.54 L279.09,176.78 L279.74,177.03 L280.38,177.27 L281.02,177.51 L281.67,177.75 L282.31,177.99 L282.95,178.24 L283.60,178.48 L284.24,178.72 L284.88,178.96 L285.52,179.20 L286.17,179.44 L286.81,179.67 L287.45,179.91 L288.10,180.15 L288.74,180.39 L289.38,180.63 L290.02,180.87 L290.67,181.11 L291.31,181.34 L291.95,181.58 L292.60,181.82 L293.24,182.06 L293.88,182.29 L294.52,182.53 L295.17,182.77 L295.81,183.00 L296.45,183.24 L297.10,183.48 L297.74,183.71 L298.38,183.95 L299.02,184.19 L299.67,184.43 L300.31,184.66 L300.95,184.90 L301.60,185.14 L302.24,185.37 L302.88,185.61 L303.52,185.85 L304.17,186.08 L304.81,186.32 L305.45,186.56 L306.10,186.79 L306.74,187.03 L307.38,187.27 L308.02,187.51 L308.67,187.75 L309.31,187.98 L309.95,188.22 L310.60,188.46 L311.24,188.70 L311.88,188.94 L312.53,189.18 L313.17,189.42 L313.81,189.66 L314.45,189.90 L315.10,190.14 L315.74,190.38 L316.38,190.62 L317.03,190.86 L317.67,191.10 L318.31,191.34 L318.95,191.59 L319.60,191.83 L320.24,192.07 L320.88,192.31 L321.53,192.56 L322.17,192.80 L322.81,193.05 L323.45,193.29 L324.10,193.54 L324.74,193.79 L325.38,194.03 L326.03,194.28 L326.67,194.53 L327.31,194.78 L327.95,195.02 L328.60,195.27 L329.24,195.52 L329.88,195.77 L330.53,196.03 L331.17,196.28 L331.81,196.53 L332.45,196.78 L333.10,197.04 L333.74,197.29 L334.38,197.55 L335.03,197.80 L335.67,198.06 L336.31,198.31 L336.95,198.57 L337.60,198.83 L338.24,199.09 L338.88,199.35 L339.53,199.61 L340.17,199.87 L340.81,200.13 L341.45,200.40 L342.10,200.66 L342.74,200.93 L343.38,201.19 L344.03,201.46 L344.67,201.73 L345.31,201.99 L345.96,202.26 L346.60,202.53 L347.24,202.81 L347.88,203.08 L348.53,203.35 L349.17,203.62 L349.81,203.90 L350.46,204.18 L351.10,204.45 L351.74,204.73 L352.38,205.01 L353.03,205.29 L353.67,205.57 L354.31,205.85 L354.96,206.13 L355.60,206.42 L356.24,206.70 L356.88,206.99 L357.53,207.28 L358.17,207.57 L358.81,207.86 L359.46,208.15 L360.10,208.44 L360.74,208.73 L361.38,209.03 L362.03,209.32 L362.67,209.62 L363.31,209.92 L363.96,210.22 L364.60,210.52 L365.24,210.82 L365.88,211.12 L366.53,211.43 L367.17,211.74 L367.81,212.04 L368.46,212.35 L369.10,212.66 L369.74,212.97 L370.38,213.28 L371.03,213.60 L371.67,213.91 L372.31,214.23 L372.96,214.55 L373.60,214.87 L374.24,215.19 L374.88,215.51 L375.53,215.84 L376.17,216.16 L376.81,216.49 L377.46,216.82 L378.10,217.15 L378.74,217.48 L379.39,217.81 L380.03,218.15 L380.67,218.49 L381.31,218.82 L381.96,219.16 L382.60,219.50 L383.24,219.85 L383.89,220.19 L384.53,220.54 L385.17,220.89 L385.81,221.23 L386.46,221.59 L387.10,221.94 L387.74,222.29 L388.39,222.65 L389.03,223.01 L389.67,223.37 L390.31,223.73 L390.96,224.09 L391.60,224.46" fill="none" stroke="#c4c4c4" stroke-width="0.8"/>
<path d="M32.80,47.70 L33.44,48.62 L34.09,49.53 L34.73,50.43 L35.38,51.33 L36.02,52.23 L36.67,53.12 L37.31,54.00 L37.95,54.88 L38.60,55.76 L39.24,56.63 L39.89,57.49 L40.53,58.35 L41.18,59.20 L41.82,60.05 L42.46,60.89 L43.11,61.73 L43.75,62.56 L44.40,63.39 L45.04,64.21 L45.69,65.03 L46.33,65.84 L46.97,66.65 L47.62,67.45 L48.26,68.25 L48.91,69.04 L49.55,69.83 L50.20,70.61 L50.84,71.39 L51.48,72.17 L52.13,72.94 L52.77,73.70 L53.42,74.46 L54.06,75.21 L54.71,75.96 L55.35,76.71 L55.99,77.45 L56.64,78.19 L57.28,78.92 L57.93,79.65 L58.57,80.37 L59.22,81.09 L59.86,81.80 L60.50,82.51 L61.15,83.22 L61.79,83.92 L62.44,84.61 L63.08,85.31 L63.73,85.99 L64.37,86.68 L65.01,87.36 L65.66,88.03 L66.30,88.70 L66.95,89.37 L67.59,90.03 L68.24,90.69 L68.88,91.34 L69.52,91.99 L70.17,92.64 L70.81,93.28 L71.46,93.92 L72.10,94.56 L72.75,95.19 L73.39,95.81 L74.03,96.44 L74.68,97.05 L75.32,97.67 L75.97,98.28 L76.61,98.89 L77.26,99.49 L77.90,100.09 L78.54,100.69 L79.19,101.28 L79.83,101.87 L80.48,102.45 L81.12,103.03 L81.77,103.61 L82.41,104.19 L83.05,104.76 L83.70,105.33 L84.34,105.89 L84.99,106.45 L85.63,107.01 L86.28,107.56 L86.92,108.11 L87.56,108.66 L88.21,109.20 L88.85,109.74 L89.50,110.28 L90.14,110.81 L90.79,111.34 L91.43,111.87 L92.07,112.39 L92.72,112.92 L93.36,113.43 L94.01,113.95 L94.65,114.46 L95.30,114.97 L95.94,115.47 L96.58,115.98 L97.23,116.48 L97.87,116.97 L98.52,117.47 L99.16,117.96 L99.81,118.45 L100.45,118.93 L101.09,119.42 L101.74,119.89 L102.38,120.37 L103.03,120.85 L103.67,121.32 L104.32,121.79 L104.96,122.25 L105.60,122.72 L106.25,123.18 L106.89,123.64 L107.54,124.09 L108.18,124.54 L108.83,124.99 L109.47,125.44 L110.11,125.89 L110.76,126.33 L111.40,126.77 L112.05,127.21 L112.69,127.65 L113.34,128.08 L113.98,128.51 L114.62,128.94 L115.27,129.37 L115.91,129.79 L116.56,130.22 L117.20,130.64 L117.85,131.06 L118.49,131.47 L119.13,131.89 L119.78,132.30 L120.42,132.71 L121.07,133.12 L121.71,133.52 L122.36,133.93 L123.00,134.33 L123.64,134.73 L124.29,135.13 L124.93,135.52 L125.58,135.92 L126.22,136.31 L126.87,136.70 L127.51,137.09 L128.15,137.48 L128.80,137.86 L129.44,138.25 L130.09,138.63 L130.73,139.01 L131.38,139.39 L132.02,139.77 L132.66,140.14 L133.31,140.52 L133.95,140.89 L134.60,141.26 L135.24,141.63 L135.89,142.00 L136.53,142.36 L137.17,142.73 L137.82,143.09 L138.46,143.46 L139.11,143.82 L139.75,144.18 L140.40,144.54 L141.04,144.90 L141.68,145.25 L142.33,145.61 L142.97,145.96 L143.62,146.31 L144.26,146.66 L144.91,147.01 L145.55,147.36 L146.19,147.71 L146.84,148.05 L147.48,148.40 L148.13,148.74 L148.77,149.08 L149.42,149.43 L150.06,149.77 L150.70,150.10 L151.35,150.44 L151.99,150.78 L152.64,151.11 L153.28,151.45 L153.93,151.78 L154.57,152.11 L155.21,152.44 L155.86,152.77 L156.50,153.10 L157.15,153.42 L157.79,153.75 L158.44,154.07 L159.08,154.40 L159.72,154.72 L160.37,155.04 L161.01,155.36 L161.66,155.68 L162.30,156.00 L162.95,156.31 L163.59,156.63 L164.23,156.94 L164.88,157.26 L165.52,157.57 L166.17,157.88 L166.81,158.19 L167.46,158.50 L168.10,158.81 L168.74,159.12 L169.39,159.42 L170.03,159.73 L170.68,160.03 L171.32,160.34 L171.97,160.64 L172.61,160.94 L173.25,161.24 L173.90,161.54 L174.54,161.84 L175.19,162.14 L175.83,162.43 L176.48,162.73 L177.12,163.02 L177.76,163.32 L178.41,163.61 L179.05,163.90 L179.70,164.19 L180.34,164.48 L180.99,164.77 L181.63,165.06 L182.27,165.35 L182.92,165.63 L183.56,165.92 L184.21,166.20 L184.85,166.49 L185.50,166.77 L186.14,167.05 L186.78,167.34 L187.43,167.62 L188.07,167.90 L188.72,168.18 L189.36,168.45 L190.01,168.73 L190.65,169.01 L191.29,169.29 L191.94,169.56 L192.58,169.83 L193.23,170.11 L193.87,170.38 L194.52,170.65 L195.16,170.93 L195.81,171.20 L196.45,171.47 L197.09,171.74 L197.74,172.00 L198.38,172.27 L199.03,172.54 L199.67,172.81 L200.32,173.07 L200.96,173.34 L201.60,173.60 L202.25,173.87 L202.89,174.13 L203.54,174.39 L204.18,174.66 L204.83,174.92 L205.47,175.18 L206.11,175.44 L206.76,175.70 L207.40,175.96 L208.05,176.22 L208.69,176.47 L209.34,176.73 L209.98,176.99 L210.62,177.24 L211.27,177.50 L211.91,177.75 L212.56,178.01 L213.20,178.26 L213.85,178.52 L214.49,178.77 L215.13,179.02 L215.78,179.27 L216.42,179.53 L217.07,179.78 L217.71,180.03 L218.36,180.28 L219.00,180.53 L219.64,180.78 L220.29,181.02 L220.93,181.27 L221.58,181.52 L222.22,181.77 L222.87,182.01 L223.51,182.26 L224.15,182.51 L224.80,182.75 L225.44,183.00 L226.09,183.24 L226.73,183.49 L227.38,183.73 L228.02,183.98 L228.66,184.22 L229.31,184.46 L229.95,184.70 L230.60,184.95 L231.24,185.19 L231.89,185.43 L232.53,185.67 L233.17,185.91 L233.82,186.15 L234.46,186.39 L235.11,186.63 L235.75,186.87 L236.40,187.11 L237.04,187.35 L237.68,187.59 L238.33,187.83 L238.97,188.07 L239.62,188.31 L240.26,188.55 L240.91,188.78 L241.55,189.02 L242.19,189.26 L242.84,189.50 L243.48,189.73 L244.13,189.97 L244.77,190.21 L245.42,190.44 L246.06,190.68 L246.70,190.92 L247.35,191.15 L247.99,191.39 L248.64,191.62 L249.28,191.86 L249.93,192.09 L250.57,192.33 L251.21,192.57 L251.86,192.80 L252.50,193.04 L253.15,193.27 L253.79,193.51 L254.44,193.74 L255.08,193.97 L255.72,194.21 L256.37,194.44 L257.01,194.68 L257.66,194.91 L258.30,195.15 L258.95,195.38 L259.59,195.62 L260.23,195.85 L260.88,196.08 L261.52,196.32 L262.17,196.55 L262.81,196.79 L263.46,197.02 L264.10,197.26 L264.74,197.49 L265.39,197.73 L266.03,197.96 L266.68,198.19 L267.32,198.43 L267.97,198.66 L268.61,198.90 L269.25,199.13 L269.90,199.37 L270.54,199.60 L271.19,199.84 L271.83,200.07 L272.48,200.31 L273.12,200.54 L273.76,200.78 L274.41,201.02 L275.05,201.25 L275.70,201.49 L276.34,201.72 L276.99,201.96 L277.63,202.20 L278.27,202.43 L278.92,202.67 L279.56,202.91 L280.21,203.15 L280.85,203.38 L281.50,203.62 L282.14,203.86 L282.78,204.10 L283.43,204.34 L284.07,204.57 L284.72,204.81 L285.36,205.05 L286.01,205.29 L286.65,205.53 L287.29,205.77 L287.94,206.01 L288.58,206.25 L289.23,206.49 L289.87,206.74 L290.52,206.98 L291.16,207.22 L291.80,207.46 L292.45,207.70 L293.09,207.95 L293.74,208.19 L294.38,208.43 L295.03,208.68 L295.67,208.92 L296.31,209.17 L296.96,209.41 L297.60,209.66 L298.25,209.90 L298.89,210.15 L299.54,210.40 L300.18,210.64 L300.82,210.89 L301.47,211.14 L302.11,211.39 L302.76,211.64 L303.40,211.89 L304.05,212.14 L304.69,212.39 L305.33,212.64 L305.98,212.89 L306.62,213.14 L307.27,213.39 L307.91,213.65 L308.56,213.90 L309.20,214.15 L309.84,214.41 L310.49,214.66 L311.13,214.92 L311.78,215.17 L312.42,215.43 L313.07,215.69 L313.71,215.95 L314.35,216.20 L315.00,216.46 L315.64,216.72 L316.29,216.98 L316.93,217.24 L317.58,217.50 L318.22,217.77 L318.86,218.03 L319.51,218.29 L320.15,218.56 L320.80,218.82 L321.44,219.09 L322.09,219.35 L322.73,219.62 L323.37,219.89 L324.02,220.15 L324.66,220.42 L325.31,220.69 L325.95,220.96 L326.60,221.23 L327.24,221.50 L327.88,221.77 L328.53,222.05 L329.17,222.32 L329.82,222.60 L330.46,222.87 L331.11,223.15 L331.75,223.42 L332.39,223.70 L333.04,223.98 L333.68,224.26 L334.33,224.54 L334.97,224.82 L335.62,225.10 L336.26,225.38 L336.90,225.66 L337.55,225.95 L338.19,226.23 L338.84,226.52 L339.48,226.80 L340.13,227.09 L340.77,227.38 L341.41,227.67 L342.06,227.96 L342.70,228.25 L343.35,228.54 L343.99,228.83 L344.64,229.13 L345.28,229.42 L345.92,229.72 L346.57,230.01 L347.21,230.31 L347.86,230.61 L348.50,230.91 L349.15,231.21 L349.79,231.51 L350.43,231.81 L351.08,232.11 L351.72,232.42 L352.37,232.72 L353.01,233.03 L353.66,233.34 L354.30,233.64" fill="none" stroke="#c4c4c4" stroke-width="0.8"/>
<line x1="193.85" y1="5.45" x2="193.85" y2="229.15" stroke="#c2c2c2" stroke-width="0.9"/>
<line x1="40.2" y1="154.3" x2="385.5" y2="154.3" stroke="#c2c2c2" stroke-width="0.9"/>
<path d="M112.60,5.45 L112.61,5.47 L113.19,6.53 L113.77,7.59 L114.35,8.65 L114.93,9.70 L115.50,10.74 L116.08,11.78 L116.66,12.82 L117.24,13.85 L117.82,14.87 L118.39,15.89 L118.97,16.90 L119.55,17.91 L120.13,18.92 L120.70,19.91 L121.28,20.91 L121.86,21.90 L122.44,22.88 L123.02,23.86 L123.59,24.83 L124.17,25.80 L124.75,26.77 L125.33,27.73 L125.91,28.68 L126.48,29.63 L127.06,30.57 L127.64,31.51 L128.22,32.45 L128.80,33.38 L129.37,34.31 L129.95,35.23 L130.53,36.14 L131.11,37.05 L131.69,37.96 L132.26,38.86 L132.84,39.76 L133.42,40.65 L134.00,41.54 L134.58,42.42 L135.15,43.30 L135.73,44.18 L136.31,45.05 L136.89,45.91 L137.47,46.77 L138.04,47.63 L138.62,48.48 L139.20,49.33 L139.78,50.17 L140.36,51.01 L140.93,51.84 L141.51,52.67 L142.09,53.49 L142.67,54.31 L143.25,55.13 L143.82,55.94 L144.40,56.75 L144.98,57.55 L145.56,58.35 L146.13,59.15 L146.71,59.94 L147.29,60.72 L147.87,61.50 L148.45,62.28 L149.02,63.06 L149.60,63.82 L150.18,64.59 L150.76,65.35 L151.34,66.11 L151.91,66.86 L152.49,67.61 L153.07,68.35 L153.65,69.09 L154.23,69.83 L154.80,70.56 L155.38,71.29 L155.96,72.01 L156.54,72.73 L157.12,73.45 L157.69,74.16 L158.27,74.87 L158.85,75.58 L159.43,76.28 L160.01,76.97 L160.58,77.67 L161.16,78.36 L161.74,79.04 L162.32,79.72 L162.90,80.40 L163.47,81.07 L164.05,81.74 L164.63,82.41 L165.21,83.07 L165.79,83.73 L166.36,84.39 L166.94,85.04 L167.52,85.69 L168.10,86.33 L168.68,86.97 L169.25,87.61 L169.83,88.24 L170.41,88.87 L170.99,89.50 L171.56,90.12 L172.14,90.74 L172.72,91.35 L173.30,91.97 L173.88,92.57 L174.45,93.18 L175.03,93.78 L175.61,94.38 L176.19,94.97 L176.77,95.57 L177.34,96.15 L177.92,96.74 L178.50,97.32 L179.08,97.90 L179.66,98.47 L180.23,99.04 L180.81,99.61 L181.39,100.18 L181.97,100.74 L182.55,101.30 L183.12,101.85 L183.70,102.41 L184.28,102.95 L184.86,103.50 L185.44,104.04 L186.01,104.58 L186.59,105.12 L187.17,105.65 L187.75,106.18 L188.33,106.71 L188.90,107.23 L189.48,107.75 L190.06,108.27 L190.64,108.79 L191.22,109.30 L191.79,109.81 L192.37,110.31 L192.95,110.82 L193.53,111.32 L194.11,111.82 L194.68,112.31 L195.26,112.80 L195.84,113.29 L196.42,113.78 L196.99,114.26 L197.57,114.74 L198.15,115.22 L198.73,115.69 L199.31,116.17 L199.88,116.63 L200.46,117.10 L201.04,117.57 L201.62,118.03 L202.20,118.49 L202.77,118.94 L203.35,119.40 L203.93,119.85 L204.51,120.29 L205.09,120.74 L205.66,121.18 L206.24,121.62 L206.82,122.06 L207.40,122.50 L207.98,122.93 L208.55,123.36 L209.13,123.79 L209.71,124.21 L210.29,124.64 L210.87,125.06 L211.44,125.48 L212.02,125.89 L212.60,126.30 L213.18,126.72 L213.76,127.12 L214.33,127.53 L214.91,127.93 L215.49,128.34 L216.07,128.74 L216.65,129.13 L217.22,129.53 L217.80,129.92 L218.38,130.31 L218.96,130.70 L219.54,131.08 L220.11,131.47 L220.69,131.85 L221.27,132.23 L221.85,132.60 L222.43,132.98 L223.00,133.35 L223.58,133.72 L224.16,134.09 L224.74,134.46 L225.31,134.82 L225.89,135.18 L226.47,135.54 L227.05,135.90 L227.63,136.26 L228.20,136.61 L228.78,136.97 L229.36,137.32 L229.94,137.66 L230.52,138.01 L231.09,138.36 L231.67,138.70 L232.25,139.04 L232.83,139.38 L233.41,139.71 L233.98,140.05 L234.56,140.38 L235.14,140.71 L235.72,141.04 L236.30,141.37 L236.87,141.70 L237.45,142.02 L238.03,142.34 L238.61,142.66 L239.19,142.98 L239.76,143.30 L240.34,143.62 L240.92,143.93 L241.50,144.24 L242.08,144.55 L242.65,144.86 L243.23,145.17 L243.81,145.48 L244.39,145.78 L244.97,146.08 L245.54,146.39 L246.12,146.68 L246.70,146.98 L247.28,147.28 L247.86,147.57 L248.43,147.87 L249.01,148.16 L249.59,148.45 L250.17,148.74 L250.74,149.03 L251.32,149.31 L251.90,149.60 L252.48,149.88 L253.06,150.17 L253.63,150.45 L254.21,150.73 L254.79,151.00 L255.37,151.28 L255.95,151.56 L256.52,151.83 L257.10,152.10 L257.68,152.38 L258.26,152.65 L258.84,152.92 L259.41,153.19 L259.99,153.45 L260.57,153.72 L261.15,153.98 L261.73,154.25 L262.30,154.51 L262.88,154.77 L263.46,155.03 L264.04,155.29 L264.62,155.55 L265.19,155.81 L265.77,156.06 L266.35,156.32 L266.93,156.57 L267.51,156.82 L268.08,157.08 L268.66,157.33 L269.24,157.58 L269.82,157.83 L270.40,158.07 L270.97,158.32 L271.55,158.57 L272.13,158.81 L272.71,159.06 L273.29,159.30 L273.86,159.55 L274.44,159.79 L275.02,160.03 L275.60,160.27 L276.17,160.51 L276.75,160.75 L277.33,160.99 L277.91,161.22 L278.49,161.46 L279.06,161.70 L279.64,161.93 L280.22,162.17 L280.80,162.40 L281.38,162.64 L281.95,162.87 L282.53,163.10 L283.11,163.33 L283.69,163.56 L284.27,163.79 L284.84,164.03 L285.42,164.25 L286.00,164.48 L286.58,164.71 L287.16,164.94 L287.73,165.17 L288.31,165.39 L288.89,165.62 L289.47,165.85 L290.05,166.07 L290.62,166.30 L291.20,166.52 L291.78,166.75 L292.36,166.97 L292.94,167.20 L293.51,167.42 L294.09,167.64 L294.67,167.87 L295.25,168.09 L295.83,168.31 L296.40,168.53 L296.98,168.75 L297.56,168.98 L298.14,169.20 L298.72,169.42 L299.29,169.64 L299.87,169.86 L300.45,170.08 L301.03,170.30 L301.61,170.52 L302.18,170.74 L302.76,170.96 L303.34,171.18 L303.92,171.40 L304.49,171.62 L305.07,171.84 L305.65,172.06 L306.23,172.28 L306.81,172.50 L307.38,172.72 L307.96,172.94 L308.54,173.16 L309.12,173.38 L309.70,173.60 L310.27,173.82 L310.85,174.04 L311.43,174.26 L312.01,174.49 L312.59,174.71 L313.16,174.93 L313.74,175.15 L314.32,175.37 L314.90,175.59 L315.48,175.81 L316.05,176.04 L316.63,176.26 L317.21,176.48 L317.79,176.70 L318.37,176.93 L318.94,177.15 L319.52,177.37 L320.10,177.60 L320.68,177.82 L321.26,178.05 L321.83,178.27 L322.41,178.50 L322.99,178.73 L323.57,178.95 L324.15,179.18 L324.72,179.41 L325.30,179.63 L325.88,179.86 L326.46,180.09 L327.04,180.32 L327.61,180.55 L328.19,180.78 L328.77,181.01 L329.35,181.25 L329.92,181.48 L330.50,181.71 L331.08,181.94 L331.66,182.18 L332.24,182.41 L332.81,182.65 L333.39,182.89 L333.97,183.12 L334.55,183.36 L335.13,183.60 L335.70,183.84 L336.28,184.08 L336.86,184.32 L337.44,184.56 L338.02,184.80 L338.59,185.05 L339.17,185.29 L339.75,185.53 L340.33,185.78 L340.91,186.03 L341.48,186.27 L342.06,186.52 L342.64,186.77 L343.22,187.02 L343.80,187.27 L344.37,187.52 L344.95,187.78 L345.53,188.03 L346.11,188.29 L346.69,188.54 L347.26,188.80 L347.84,189.06 L348.42,189.32 L349.00,189.58 L349.58,189.84 L350.15,190.10 L350.73,190.37 L351.31,190.63 L351.89,190.90 L352.47,191.16 L353.04,191.43 L353.62,191.70 L354.20,191.97 L354.78,192.24 L355.35,192.52 L355.93,192.79 L356.51,193.07 L357.09,193.35 L357.67,193.62 L358.24,193.90 L358.82,194.18 L359.40,194.47 L359.98,194.75 L360.56,195.04 L361.13,195.32 L361.71,195.61 L362.29,195.90 L362.87,196.19 L363.45,196.48 L364.02,196.78 L364.60,197.07 L365.18,197.37 L365.76,197.67 L366.34,197.97 L366.91,198.27 L367.49,198.57 L368.07,198.88 L368.65,199.18 L369.23,199.49 L369.80,199.80 L370.38,200.11 L370.96,200.42 L371.54,200.74 L372.12,201.05 L372.69,201.37 L373.27,201.69 L373.85,202.01 L374.43,202.33 L375.01,202.66 L375.58,202.98 L376.16,203.31 L376.74,203.64 L377.32,203.97 L377.90,204.31 L378.47,204.64 L379.05,204.98 L379.63,205.32 L380.21,205.66 L380.78,206.00 L381.36,206.34 L381.94,206.69 L382.52,207.04 L383.10,207.39 L383.67,207.74 L384.25,208.10 L384.83,208.45 L385.41,208.81 L385.50,208.87" fill="none" stroke="#5e5e5e" stroke-width="1.7" stroke-linecap="round" stroke-dasharray="0 5.75"/>
<path d="M40.20,97.96 L40.59,98.32 L41.16,98.84 L41.73,99.36 L42.31,99.88 L42.88,100.39 L43.45,100.91 L44.02,101.42 L44.60,101.93 L45.17,102.43 L45.74,102.94 L46.31,103.44 L46.89,103.94 L47.46,104.43 L48.03,104.93 L48.60,105.42 L49.18,105.91 L49.75,106.39 L50.32,106.88 L50.89,107.36 L51.47,107.84 L52.04,108.32 L52.61,108.80 L53.18,109.27 L53.76,109.74 L54.33,110.21 L54.90,110.68 L55.47,111.14 L56.05,111.60 L56.62,112.06 L57.19,112.52 L57.76,112.98 L58.34,113.43 L58.91,113.89 L59.48,114.34 L60.05,114.78 L60.63,115.23 L61.20,115.67 L61.77,116.11 L62.34,116.55 L62.92,116.99 L63.49,117.43 L64.06,117.86 L64.64,118.29 L65.21,118.72 L65.78,119.15 L66.35,119.57 L66.93,120.00 L67.50,120.42 L68.07,120.84 L68.64,121.25 L69.22,121.67 L69.79,122.08 L70.36,122.50 L70.93,122.91 L71.51,123.31 L72.08,123.72 L72.65,124.12 L73.22,124.53 L73.80,124.93 L74.37,125.33 L74.94,125.72 L75.51,126.12 L76.09,126.51 L76.66,126.90 L77.23,127.29 L77.80,127.68 L78.38,128.07 L78.95,128.45 L79.52,128.84 L80.09,129.22 L80.67,129.60 L81.24,129.97 L81.81,130.35 L82.38,130.72 L82.96,131.10 L83.53,131.47 L84.10,131.84 L84.67,132.21 L85.25,132.57 L85.82,132.94 L86.39,133.30 L86.96,133.66 L87.54,134.02 L88.11,134.38 L88.68,134.74 L89.25,135.09 L89.83,135.44 L90.40,135.80 L90.97,136.15 L91.54,136.50 L92.12,136.84 L92.69,137.19 L93.26,137.53 L93.83,137.88 L94.41,138.22 L94.98,138.56 L95.55,138.90 L96.13,139.24 L96.70,139.57 L97.27,139.91 L97.84,140.24 L98.42,140.57 L98.99,140.90 L99.56,141.23 L100.13,141.56 L100.71,141.89 L101.28,142.21 L101.85,142.54 L102.42,142.86 L103.00,143.18 L103.57,143.50 L104.14,143.82 L104.71,144.14 L105.29,144.45 L105.86,144.77 L106.43,145.08 L107.00,145.39 L107.58,145.71 L108.15,146.02 L108.72,146.33 L109.29,146.63 L109.87,146.94 L110.44,147.25 L111.01,147.55 L111.58,147.85 L112.16,148.16 L112.73,148.46 L113.30,148.76 L113.87,149.06 L114.45,149.35 L115.02,149.65 L115.59,149.95 L116.16,150.24 L116.74,150.54 L117.31,150.83 L117.88,151.12 L118.45,151.41 L119.03,151.70 L119.60,151.99 L120.17,152.28 L120.74,152.57 L121.32,152.85 L121.89,153.14 L122.46,153.42 L123.03,153.70 L123.61,153.99 L124.18,154.27 L124.75,154.55 L125.32,154.83 L125.90,155.11 L126.47,155.39 L127.04,155.66 L127.62,155.94 L128.19,156.21 L128.76,156.49 L129.33,156.76 L129.91,157.04 L130.48,157.31 L131.05,157.58 L131.62,157.85 L132.20,158.12 L132.77,158.39 L133.34,158.66 L133.91,158.93 L134.49,159.20 L135.06,159.46 L135.63,159.73 L136.20,160.00 L136.78,160.26 L137.35,160.52 L137.92,160.79 L138.49,161.05 L139.07,161.31 L139.64,161.58 L140.21,161.84 L140.78,162.10 L141.36,162.36 L141.93,162.62 L142.50,162.88 L143.07,163.13 L143.65,163.39 L144.22,163.65 L144.79,163.91 L145.36,164.16 L145.94,164.42 L146.51,164.68 L147.08,164.93 L147.65,165.18 L148.23,165.44 L148.80,165.69 L149.37,165.95 L149.94,166.20 L150.52,166.45 L151.09,166.70 L151.66,166.96 L152.23,167.21 L152.81,167.46 L153.38,167.71 L153.95,167.96 L154.52,168.21 L155.10,168.46 L155.67,168.71 L156.24,168.95 L156.81,169.20 L157.39,169.45 L157.96,169.70 L158.53,169.94 L159.11,170.19 L159.68,170.44 L160.25,170.68 L160.82,170.93 L161.40,171.17 L161.97,171.42 L162.54,171.66 L163.11,171.90 L163.69,172.15 L164.26,172.39 L164.83,172.63 L165.40,172.88 L165.98,173.12 L166.55,173.36 L167.12,173.60 L167.69,173.84 L168.27,174.08 L168.84,174.32 L169.41,174.56 L169.98,174.80 L170.56,175.04 L171.13,175.28 L171.70,175.52 L172.27,175.76 L172.85,175.99 L173.42,176.23 L173.99,176.47 L174.56,176.70 L175.14,176.94 L175.71,177.18 L176.28,177.41 L176.85,177.65 L177.43,177.88 L178.00,178.12 L178.57,178.35 L179.14,178.59 L179.72,178.82 L180.29,179.06 L180.86,179.29 L181.43,179.52 L182.01,179.75 L182.58,179.99 L183.15,180.22 L183.72,180.45 L184.30,180.68 L184.87,180.91 L185.44,181.15 L186.01,181.38 L186.59,181.61 L187.16,181.84 L187.73,182.07 L188.30,182.30 L188.88,182.53 L189.45,182.76 L190.02,182.99 L190.59,183.21 L191.17,183.44 L191.74,183.67 L192.31,183.90 L192.89,184.13 L193.46,184.36 L194.03,184.58 L194.60,184.81 L195.18,185.04 L195.75,185.26 L196.32,185.49 L196.89,185.72 L197.47,185.94 L198.04,186.17 L198.61,186.39 L199.18,186.62 L199.76,186.84 L200.33,187.07 L200.90,187.29 L201.47,187.52 L202.05,187.74 L202.62,187.97 L203.19,188.19 L203.76,188.41 L204.34,188.64 L204.91,188.86 L205.48,189.08 L206.05,189.31 L206.63,189.53 L207.20,189.75 L207.77,189.98 L208.34,190.20 L208.92,190.42 L209.49,190.64 L210.06,190.86 L210.63,191.09 L211.21,191.31 L211.78,191.53 L212.35,191.75 L212.92,191.97 L213.50,192.19 L214.07,192.41 L214.64,192.63 L215.21,192.85 L215.79,193.07 L216.36,193.29 L216.93,193.51 L217.50,193.73 L218.08,193.95 L218.65,194.17 L219.22,194.39 L219.79,194.61 L220.37,194.83 L220.94,195.05 L221.51,195.27 L222.08,195.49 L222.66,195.71 L223.23,195.93 L223.80,196.14 L224.38,196.36 L224.95,196.58 L225.52,196.80 L226.09,197.02 L226.67,197.24 L227.24,197.45 L227.81,197.67 L228.38,197.89 L228.96,198.11 L229.53,198.33 L230.10,198.54 L230.67,198.76 L231.25,198.98 L231.82,199.20 L232.39,199.41 L232.96,199.63 L233.54,199.85 L234.11,200.07 L234.68,200.28 L235.25,200.50 L235.83,200.72 L236.40,200.93 L236.97,201.15 L237.54,201.37 L238.12,201.59 L238.69,201.80 L239.26,202.02 L239.83,202.24 L240.41,202.45 L240.98,202.67 L241.55,202.89 L242.12,203.10 L242.70,203.32 L243.27,203.54 L243.84,203.75 L244.41,203.97 L244.99,204.19 L245.56,204.40 L246.13,204.62 L246.70,204.84 L247.28,205.05 L247.85,205.27 L248.42,205.49 L248.99,205.70 L249.57,205.92 L250.14,206.14 L250.71,206.35 L251.28,206.57 L251.86,206.79 L252.43,207.00 L253.00,207.22 L253.57,207.44 L254.15,207.65 L254.72,207.87 L255.29,208.09 L255.87,208.30 L256.44,208.52 L257.01,208.74 L257.58,208.96 L258.16,209.17 L258.73,209.39 L259.30,209.61 L259.87,209.82 L260.45,210.04 L261.02,210.26 L261.59,210.48 L262.16,210.69 L262.74,210.91 L263.31,211.13 L263.88,211.35 L264.45,211.57 L265.03,211.78 L265.60,212.00 L266.17,212.22 L266.74,212.44 L267.32,212.66 L267.89,212.88 L268.46,213.09 L269.03,213.31 L269.61,213.53 L270.18,213.75 L270.75,213.97 L271.32,214.19 L271.90,214.41 L272.47,214.63 L273.04,214.85 L273.61,215.07 L274.19,215.28 L274.76,215.50 L275.33,215.72 L275.90,215.94 L276.48,216.16 L277.05,216.38 L277.62,216.61 L278.19,216.83 L278.77,217.05 L279.34,217.27 L279.91,217.49 L280.48,217.71 L281.06,217.93 L281.63,218.15 L282.20,218.37 L282.77,218.60 L283.35,218.82 L283.92,219.04 L284.49,219.26 L285.06,219.48 L285.64,219.71 L286.21,219.93 L286.78,220.15 L287.36,220.38 L287.93,220.60 L288.50,220.82 L289.07,221.05 L289.65,221.27 L290.22,221.49 L290.79,221.72 L291.36,221.94 L291.94,222.17 L292.51,222.39 L293.08,222.62 L293.65,222.84 L294.23,223.07 L294.80,223.29 L295.37,223.52 L295.94,223.75 L296.52,223.97 L297.09,224.20 L297.66,224.43 L298.23,224.65 L298.81,224.88 L299.38,225.11 L299.95,225.34 L300.52,225.56 L301.10,225.79 L301.67,226.02 L302.24,226.25 L302.81,226.48 L303.39,226.71 L303.96,226.94 L304.53,227.17 L305.10,227.40 L305.68,227.63 L306.25,227.86 L306.82,228.09 L307.39,228.32 L307.97,228.55 L308.54,228.78 L309.11,229.01 L309.44,229.15" fill="none" stroke="#5e5e5e" stroke-width="1.7" stroke-linecap="round" stroke-dasharray="0 5.75"/>
<path d="M79.34,5.45 L79.80,6.34 L80.44,7.59 L81.09,8.83 L81.73,10.06 L82.37,11.28 L83.01,12.49 L83.66,13.70 L84.30,14.89 L84.94,16.08 L85.59,17.27 L86.23,18.44 L86.87,19.61 L87.52,20.77 L88.16,21.92 L88.80,23.06 L89.44,24.20 L90.09,25.33 L90.73,26.45 L91.37,27.56 L92.02,28.67 L92.66,29.76 L93.30,30.86 L93.94,31.94 L94.59,33.02 L95.23,34.09 L95.87,35.15 L96.52,36.20 L97.16,37.25 L97.80,38.29 L98.44,39.33 L99.09,40.35 L99.73,41.37 L100.37,42.39 L101.02,43.39 L101.66,44.39 L102.30,45.38 L102.94,46.37 L103.59,47.35 L104.23,48.32 L104.87,49.29 L105.52,50.24 L106.16,51.20 L106.80,52.14 L107.44,53.08 L108.09,54.01 L108.73,54.94 L109.37,55.86 L110.02,56.78 L110.66,57.68 L111.30,58.58 L111.94,59.48 L112.59,60.37 L113.23,61.25 L113.87,62.13 L114.52,63.00 L115.16,63.86 L115.80,64.72 L116.44,65.57 L117.09,66.42 L117.73,67.26 L118.37,68.09 L119.02,68.92 L119.66,69.75 L120.30,70.56 L120.95,71.38 L121.59,72.18 L122.23,72.98 L122.87,73.78 L123.52,74.57 L124.16,75.35 L124.80,76.13 L125.45,76.90 L126.09,77.67 L126.73,78.43 L127.37,79.19 L128.02,79.94 L128.66,80.69 L129.30,81.43 L129.95,82.17 L130.59,82.90 L131.23,83.63 L131.87,84.35 L132.52,85.06 L133.16,85.78 L133.80,86.48 L134.45,87.18 L135.09,87.88 L135.73,88.57 L136.37,89.26 L137.02,89.94 L137.66,90.62 L138.30,91.29 L138.95,91.96 L139.59,92.63 L140.23,93.29 L140.87,93.94 L141.52,94.59 L142.16,95.24 L142.80,95.88 L143.45,96.52 L144.09,97.15 L144.73,97.78 L145.37,98.41 L146.02,99.03 L146.66,99.64 L147.30,100.26 L147.95,100.86 L148.59,101.47 L149.23,102.07 L149.87,102.67 L150.52,103.26 L151.16,103.85 L151.80,104.43 L152.45,105.01 L153.09,105.59 L153.73,106.17 L154.38,106.74 L155.02,107.30 L155.66,107.87 L156.30,108.43 L156.95,108.98 L157.59,109.53 L158.23,110.08 L158.88,110.63 L159.52,111.17 L160.16,111.71 L160.80,112.25 L161.45,112.78 L162.09,113.31 L162.73,113.83 L163.38,114.36 L164.02,114.88 L164.66,115.39 L165.30,115.91 L165.95,116.42 L166.59,116.93 L167.23,117.43 L167.88,117.94 L168.52,118.43 L169.16,118.93 L169.80,119.43 L170.45,119.92 L171.09,120.41 L171.73,120.89 L172.38,121.38 L173.02,121.86 L173.66,122.34 L174.30,122.81 L174.95,123.29 L175.59,123.76 L176.23,124.23 L176.88,124.69 L177.52,125.16 L178.16,125.62 L178.80,126.08 L179.45,126.53 L180.09,126.99 L180.73,127.44 L181.38,127.89 L182.02,128.34 L182.66,128.78 L183.31,129.23 L183.95,129.67 L184.59,130.11 L185.23,130.54 L185.88,130.98 L186.52,131.41 L187.16,131.84 L187.81,132.27 L188.45,132.69 L189.09,133.11 L189.73,133.53 L190.38,133.95 L191.02,134.37 L191.66,134.78 L192.31,135.20 L192.95,135.61 L193.59,136.02 L194.23,136.42 L194.88,136.83 L195.52,137.23 L196.16,137.63 L196.81,138.03 L197.45,138.42 L198.09,138.82 L198.73,139.21 L199.38,139.60 L200.02,139.99 L200.66,140.37 L201.31,140.76 L201.95,141.14 L202.59,141.52 L203.23,141.90 L203.88,142.27 L204.52,142.65 L205.16,143.02 L205.81,143.39 L206.45,143.76 L207.09,144.13 L207.73,144.49 L208.38,144.86 L209.02,145.22 L209.66,145.58 L210.31,145.94 L210.95,146.29 L211.59,146.65 L212.23,147.00 L212.88,147.35 L213.52,147.70 L214.16,148.05 L214.81,148.40 L215.45,148.74 L216.09,149.09 L216.74,149.43 L217.38,149.77 L218.02,150.11 L218.66,150.44 L219.31,150.78 L219.95,151.11 L220.59,151.44 L221.24,151.78 L221.88,152.10 L222.52,152.43 L223.16,152.76 L223.81,153.08 L224.45,153.40 L225.09,153.73 L225.74,154.05 L226.38,154.37 L227.02,154.68 L227.66,155.00 L228.31,155.31 L228.95,155.63 L229.59,155.94 L230.24,156.25 L230.88,156.56 L231.52,156.86 L232.16,157.17 L232.81,157.47 L233.45,157.78 L234.09,158.08 L234.74,158.38 L235.38,158.68 L236.02,158.98 L236.66,159.28 L237.31,159.57 L237.95,159.87 L238.59,160.16 L239.24,160.45 L239.88,160.75 L240.52,161.04 L241.16,161.32 L241.81,161.61 L242.45,161.90 L243.09,162.18 L243.74,162.47 L244.38,162.75 L245.02,163.03 L245.66,163.32 L246.31,163.60 L246.95,163.87 L247.59,164.15 L248.24,164.43 L248.88,164.71 L249.52,164.98 L250.17,165.26 L250.81,165.53 L251.45,165.80 L252.09,166.07 L252.74,166.34 L253.38,166.61 L254.02,166.88 L254.67,167.15 L255.31,167.41 L255.95,167.68 L256.59,167.95 L257.24,168.21 L257.88,168.47 L258.52,168.74 L259.17,169.00 L259.81,169.26 L260.45,169.52 L261.09,169.78 L261.74,170.04 L262.38,170.29 L263.02,170.55 L263.67,170.81 L264.31,171.06 L264.95,171.32 L265.59,171.57 L266.24,171.83 L266.88,172.08 L267.52,172.33 L268.17,172.59 L268.81,172.84 L269.45,173.09 L270.09,173.34 L270.74,173.59 L271.38,173.84 L272.02,174.08 L272.67,174.33 L273.31,174.58 L273.95,174.83 L274.59,175.07 L275.24,175.32 L275.88,175.56 L276.52,175.81 L277.17,176.05 L277.81,176.30 L278.45,176.54 L279.09,176.78 L279.74,177.03 L280.38,177.27 L281.02,177.51 L281.67,177.75 L282.31,177.99 L282.95,178.24 L283.60,178.48 L284.24,178.72 L284.88,178.96 L285.52,179.20 L286.17,179.44 L286.81,179.67 L287.45,179.91 L288.10,180.15 L288.74,180.39 L289.38,180.63 L290.02,180.87 L290.67,181.11 L291.31,181.34 L291.95,181.58 L292.60,181.82 L293.24,182.06 L293.88,182.29 L294.52,182.53 L295.17,182.77 L295.81,183.00 L296.45,183.24 L297.10,183.48 L297.74,183.71 L298.38,183.95 L299.02,184.19 L299.67,184.43 L300.31,184.66 L300.95,184.90 L301.60,185.14 L302.24,185.37 L302.88,185.61 L303.52,185.85 L304.17,186.08 L304.81,186.32 L305.45,186.56 L306.10,186.79 L306.74,187.03 L307.38,187.27 L308.02,187.51 L308.67,187.75 L309.31,187.98 L309.95,188.22 L310.60,188.46 L311.24,188.70 L311.88,188.94 L312.53,189.18 L313.17,189.42 L313.81,189.66 L314.45,189.90 L315.10,190.14 L315.74,190.38 L316.38,190.62 L317.03,190.86 L317.67,191.10 L318.31,191.34 L318.95,191.59 L319.60,191.83 L320.24,192.07 L320.88,192.31 L321.53,192.56 L322.17,192.80 L322.81,193.05 L323.45,193.29 L324.10,193.54 L324.74,193.79 L325.38,194.03 L326.03,194.28 L326.67,194.53 L327.31,194.78 L327.95,195.02 L328.60,195.27 L329.24,195.52 L329.88,195.77 L330.53,196.03 L331.17,196.28 L331.81,196.53 L332.45,196.78 L333.10,197.04 L333.74,197.29 L334.38,197.55 L335.03,197.80 L335.67,198.06 L336.31,198.31 L336.95,198.57 L337.60,198.83 L338.24,199.09 L338.88,199.35 L339.53,199.61 L340.17,199.87 L340.81,200.13 L341.45,200.40 L342.10,200.66 L342.74,200.93 L343.38,201.19 L344.03,201.46 L344.67,201.73 L345.31,201.99 L345.96,202.26 L346.60,202.53 L347.24,202.81 L347.88,203.08 L348.53,203.35 L349.17,203.62 L349.81,203.90 L350.46,204.18 L351.10,204.45 L351.74,204.73 L352.38,205.01 L353.03,205.29 L353.67,205.57 L354.31,205.85 L354.96,206.13 L355.60,206.42 L356.24,206.70 L356.88,206.99 L357.53,207.28 L358.17,207.57 L358.81,207.86 L359.46,208.15 L360.10,208.44 L360.74,208.73 L361.38,209.03 L362.03,209.32 L362.67,209.62 L363.31,209.92 L363.96,210.22 L364.60,210.52 L365.24,210.82 L365.88,211.12 L366.53,211.43 L367.17,211.74 L367.81,212.04 L368.46,212.35 L369.10,212.66 L369.74,212.97 L370.38,213.28 L371.03,213.60 L371.67,213.91 L372.31,214.23 L372.96,214.55 L373.60,214.87 L374.24,215.19 L374.88,215.51 L375.53,215.84 L376.17,216.16 L376.81,216.49 L377.46,216.82 L378.10,217.15 L378.74,217.48 L379.39,217.81 L380.03,218.15 L380.67,218.49 L381.31,218.82 L381.96,219.16 L382.60,219.50 L383.24,219.85 L383.89,220.19 L384.53,220.54 L385.17,220.89 L385.50,221.06" fill="none" stroke="#707070" stroke-width="1.6" stroke-dasharray="11 14.2"/>
<path d="M40.20,57.91 L40.53,58.35 L41.18,59.20 L41.82,60.05 L42.46,60.89 L43.11,61.73 L43.75,62.56 L44.40,63.39 L45.04,64.21 L45.69,65.03 L46.33,65.84 L46.97,66.65 L47.62,67.45 L48.26,68.25 L48.91,69.04 L49.55,69.83 L50.20,70.61 L50.84,71.39 L51.48,72.17 L52.13,72.94 L52.77,73.70 L53.42,74.46 L54.06,75.21 L54.71,75.96 L55.35,76.71 L55.99,77.45 L56.64,78.19 L57.28,78.92 L57.93,79.65 L58.57,80.37 L59.22,81.09 L59.86,81.80 L60.50,82.51 L61.15,83.22 L61.79,83.92 L62.44,84.61 L63.08,85.31 L63.73,85.99 L64.37,86.68 L65.01,87.36 L65.66,88.03 L66.30,88.70 L66.95,89.37 L67.59,90.03 L68.24,90.69 L68.88,91.34 L69.52,91.99 L70.17,92.64 L70.81,93.28 L71.46,93.92 L72.10,94.56 L72.75,95.19 L73.39,95.81 L74.03,96.44 L74.68,97.05 L75.32,97.67 L75.97,98.28 L76.61,98.89 L77.26,99.49 L77.90,100.09 L78.54,100.69 L79.19,101.28 L79.83,101.87 L80.48,102.45 L81.12,103.03 L81.77,103.61 L82.41,104.19 L83.05,104.76 L83.70,105.33 L84.34,105.89 L84.99,106.45 L85.63,107.01 L86.28,107.56 L86.92,108.11 L87.56,108.66 L88.21,109.20 L88.85,109.74 L89.50,110.28 L90.14,110.81 L90.79,111.34 L91.43,111.87 L92.07,112.39 L92.72,112.92 L93.36,113.43 L94.01,113.95 L94.65,114.46 L95.30,114.97 L95.94,115.47 L96.58,115.98 L97.23,116.48 L97.87,116.97 L98.52,117.47 L99.16,117.96 L99.81,118.45 L100.45,118.93 L101.09,119.42 L101.74,119.89 L102.38,120.37 L103.03,120.85 L103.67,121.32 L104.32,121.79 L104.96,122.25 L105.60,122.72 L106.25,123.18 L106.89,123.64 L107.54,124.09 L108.18,124.54 L108.83,124.99 L109.47,125.44 L110.11,125.89 L110.76,126.33 L111.40,126.77 L112.05,127.21 L112.69,127.65 L113.34,128.08 L113.98,128.51 L114.62,128.94 L115.27,129.37 L115.91,129.79 L116.56,130.22 L117.20,130.64 L117.85,131.06 L118.49,131.47 L119.13,131.89 L119.78,132.30 L120.42,132.71 L121.07,133.12 L121.71,133.52 L122.36,133.93 L123.00,134.33 L123.64,134.73 L124.29,135.13 L124.93,135.52 L125.58,135.92 L126.22,136.31 L126.87,136.70 L127.51,137.09 L128.15,137.48 L128.80,137.86 L129.44,138.25 L130.09,138.63 L130.73,139.01 L131.38,139.39 L132.02,139.77 L132.66,140.14 L133.31,140.52 L133.95,140.89 L134.60,141.26 L135.24,141.63 L135.89,142.00 L136.53,142.36 L137.17,142.73 L137.82,143.09 L138.46,143.46 L139.11,143.82 L139.75,144.18 L140.40,144.54 L141.04,144.90 L141.68,145.25 L142.33,145.61 L142.97,145.96 L143.62,146.31 L144.26,146.66 L144.91,147.01 L145.55,147.36 L146.19,147.71 L146.84,148.05 L147.48,148.40 L148.13,148.74 L148.77,149.08 L149.42,149.43 L150.06,149.77 L150.70,150.10 L151.35,150.44 L151.99,150.78 L152.64,151.11 L153.28,151.45 L153.93,151.78 L154.57,152.11 L155.21,152.44 L155.86,152.77 L156.50,153.10 L157.15,153.42 L157.79,153.75 L158.44,154.07 L159.08,154.40 L159.72,154.72 L160.37,155.04 L161.01,155.36 L161.66,155.68 L162.30,156.00 L162.95,156.31 L163.59,156.63 L164.23,156.94 L164.88,157.26 L165.52,157.57 L166.17,157.88 L166.81,158.19 L167.46,158.50 L168.10,158.81 L168.74,159.12 L169.39,159.42 L170.03,159.73 L170.68,160.03 L171.32,160.34 L171.97,160.64 L172.61,160.94 L173.25,161.24 L173.90,161.54 L174.54,161.84 L175.19,162.14 L175.83,162.43 L176.48,162.73 L177.12,163.02 L177.76,163.32 L178.41,163.61 L179.05,163.90 L179.70,164.19 L180.34,164.48 L180.99,164.77 L181.63,165.06 L182.27,165.35 L182.92,165.63 L183.56,165.92 L184.21,166.20 L184.85,166.49 L185.50,166.77 L186.14,167.05 L186.78,167.34 L187.43,167.62 L188.07,167.90 L188.72,168.18 L189.36,168.45 L190.01,168.73 L190.65,169.01 L191.29,169.29 L191.94,169.56 L192.58,169.83 L193.23,170.11 L193.87,170.38 L194.52,170.65 L195.16,170.93 L195.81,171.20 L196.45,171.47 L197.09,171.74 L197.74,172.00 L198.38,172.27 L199.03,172.54 L199.67,172.81 L200.32,173.07 L200.96,173.34 L201.60,173.60 L202.25,173.87 L202.89,174.13 L203.54,174.39 L204.18,174.66 L204.83,174.92 L205.47,175.18 L206.11,175.44 L206.76,175.70 L207.40,175.96 L208.05,176.22 L208.69,176.47 L209.34,176.73 L209.98,176.99 L210.62,177.24 L211.27,177.50 L211.91,177.75 L212.56,178.01 L213.20,178.26 L213.85,178.52 L214.49,178.77 L215.13,179.02 L215.78,179.27 L216.42,179.53 L217.07,179.78 L217.71,180.03 L218.36,180.28 L219.00,180.53 L219.64,180.78 L220.29,181.02 L220.93,181.27 L221.58,181.52 L222.22,181.77 L222.87,182.01 L223.51,182.26 L224.15,182.51 L224.80,182.75 L225.44,183.00 L226.09,183.24 L226.73,183.49 L227.38,183.73 L228.02,183.98 L228.66,184.22 L229.31,184.46 L229.95,184.70 L230.60,184.95 L231.24,185.19 L231.89,185.43 L232.53,185.67 L233.17,185.91 L233.82,186.15 L234.46,186.39 L235.11,186.63 L235.75,186.87 L236.40,187.11 L237.04,187.35 L237.68,187.59 L238.33,187.83 L238.97,188.07 L239.62,188.31 L240.26,188.55 L240.91,188.78 L241.55,189.02 L242.19,189.26 L242.84,189.50 L243.48,189.73 L244.13,189.97 L244.77,190.21 L245.42,190.44 L246.06,190.68 L246.70,190.92 L247.35,191.15 L247.99,191.39 L248.64,191.62 L249.28,191.86 L249.93,192.09 L250.57,192.33 L251.21,192.57 L251.86,192.80 L252.50,193.04 L253.15,193.27 L253.79,193.51 L254.44,193.74 L255.08,193.97 L255.72,194.21 L256.37,194.44 L257.01,194.68 L257.66,194.91 L258.30,195.15 L258.95,195.38 L259.59,195.62 L260.23,195.85 L260.88,196.08 L261.52,196.32 L262.17,196.55 L262.81,196.79 L263.46,197.02 L264.10,197.26 L264.74,197.49 L265.39,197.73 L266.03,197.96 L266.68,198.19 L267.32,198.43 L267.97,198.66 L268.61,198.90 L269.25,199.13 L269.90,199.37 L270.54,199.60 L271.19,199.84 L271.83,200.07 L272.48,200.31 L273.12,200.54 L273.76,200.78 L274.41,201.02 L275.05,201.25 L275.70,201.49 L276.34,201.72 L276.99,201.96 L277.63,202.20 L278.27,202.43 L278.92,202.67 L279.56,202.91 L280.21,203.15 L280.85,203.38 L281.50,203.62 L282.14,203.86 L282.78,204.10 L283.43,204.34 L284.07,204.57 L284.72,204.81 L285.36,205.05 L286.01,205.29 L286.65,205.53 L287.29,205.77 L287.94,206.01 L288.58,206.25 L289.23,206.49 L289.87,206.74 L290.52,206.98 L291.16,207.22 L291.80,207.46 L292.45,207.70 L293.09,207.95 L293.74,208.19 L294.38,208.43 L295.03,208.68 L295.67,208.92 L296.31,209.17 L296.96,209.41 L297.60,209.66 L298.25,209.90 L298.89,210.15 L299.54,210.40 L300.18,210.64 L300.82,210.89 L301.47,211.14 L302.11,211.39 L302.76,211.64 L303.40,211.89 L304.05,212.14 L304.69,212.39 L305.33,212.64 L305.98,212.89 L306.62,213.14 L307.27,213.39 L307.91,213.65 L308.56,213.90 L309.20,214.15 L309.84,214.41 L310.49,214.66 L311.13,214.92 L311.78,215.17 L312.42,215.43 L313.07,215.69 L313.71,215.95 L314.35,216.20 L315.00,216.46 L315.64,216.72 L316.29,216.98 L316.93,217.24 L317.58,217.50 L318.22,217.77 L318.86,218.03 L319.51,218.29 L320.15,218.56 L320.80,218.82 L321.44,219.09 L322.09,219.35 L322.73,219.62 L323.37,219.89 L324.02,220.15 L324.66,220.42 L325.31,220.69 L325.95,220.96 L326.60,221.23 L327.24,221.50 L327.88,221.77 L328.53,222.05 L329.17,222.32 L329.82,222.60 L330.46,222.87 L331.11,223.15 L331.75,223.42 L332.39,223.70 L333.04,223.98 L333.68,224.26 L334.33,224.54 L334.97,224.82 L335.62,225.10 L336.26,225.38 L336.90,225.66 L337.55,225.95 L338.19,226.23 L338.84,226.52 L339.48,226.80 L340.13,227.09 L340.77,227.38 L341.41,227.67 L342.06,227.96 L342.70,228.25 L343.35,228.54 L343.99,228.83 L344.64,229.13 L344.69,229.15" fill="none" stroke="#707070" stroke-width="1.6" stroke-dasharray="11 14"/>
<path d="M35.70,-7.77 L36.42,-6.38 L37.14,-5.00 L37.86,-3.62 L38.58,-2.26 L39.30,-0.90 L40.02,0.45 L40.74,1.79 L41.47,3.13 L42.19,4.45 L42.91,5.77 L43.63,7.07 L44.35,8.37 L45.07,9.66 L45.79,10.95 L46.51,12.22 L47.23,13.49 L47.95,14.75 L48.67,16.00 L49.39,17.24 L50.11,18.48 L50.83,19.71 L51.55,20.92 L52.27,22.14 L53.00,23.34 L53.72,24.54 L54.44,25.72 L55.16,26.90 L55.88,28.08 L56.60,29.24 L57.32,30.40 L58.04,31.55 L58.76,32.69 L59.48,33.83 L60.20,34.96 L60.92,36.08 L61.64,37.19 L62.36,38.30 L63.08,39.39 L63.81,40.49 L64.53,41.57 L65.25,42.65 L65.97,43.72 L66.69,44.78 L67.41,45.83 L68.13,46.88 L68.85,47.92 L69.57,48.96 L70.29,49.99 L71.01,51.01 L71.73,52.02 L72.45,53.03 L73.17,54.03 L73.89,55.02 L74.61,56.01 L75.34,56.99 L76.06,57.96 L76.78,58.93 L77.50,59.89 L78.22,60.84 L78.94,61.79 L79.66,62.73 L80.38,63.67 L81.10,64.59 L81.82,65.52 L82.54,66.43 L83.26,67.34 L83.98,68.24 L84.70,69.14 L85.42,70.03 L86.14,70.91 L86.87,71.79 L87.59,72.67 L88.31,73.53 L89.03,74.39 L89.75,75.25 L90.47,76.09 L91.19,76.94 L91.91,77.77 L92.63,78.60 L93.35,79.43 L94.07,80.25 L94.79,81.06 L95.51,81.87 L96.23,82.67 L96.95,83.47 L97.68,84.26 L98.40,85.05 L99.12,85.83 L99.84,86.60 L100.56,87.37 L101.28,88.14 L102.00,88.89 L102.72,89.65 L103.44,90.40 L104.16,91.14 L104.88,91.88 L105.60,92.61 L106.32,93.34 L107.04,94.06 L107.76,94.78 L108.48,95.49 L109.21,96.20 L109.93,96.90 L110.65,97.60 L111.37,98.29 L112.09,98.98 L112.81,99.66 L113.53,100.34 L114.25,101.01 L114.97,101.68 L115.69,102.34 L116.41,103.00 L117.13,103.66 L117.85,104.31 L118.57,104.95 L119.29,105.60 L120.02,106.23 L120.74,106.86 L121.46,107.49 L122.18,108.12 L122.90,108.74 L123.62,109.35 L124.34,109.96 L125.06,110.57 L125.78,111.17 L126.50,111.77 L127.22,112.37 L127.94,112.96 L128.66,113.54 L129.38,114.13 L130.10,114.70 L130.82,115.28 L131.55,115.85 L132.27,116.42 L132.99,116.98 L133.71,117.54 L134.43,118.10 L135.15,118.65 L135.87,119.20 L136.59,119.74 L137.31,120.28 L138.03,120.82 L138.75,121.36 L139.47,121.89 L140.19,122.41 L140.91,122.94 L141.63,123.46 L142.35,123.98 L143.08,124.49 L143.80,125.00 L144.52,125.51 L145.24,126.01 L145.96,126.52 L146.68,127.01 L147.40,127.51 L148.12,128.00 L148.84,128.49 L149.56,128.98 L150.28,129.46 L151.00,129.94 L151.72,130.42 L152.44,130.89 L153.16,131.36 L153.89,131.83 L154.61,132.30 L155.33,132.76 L156.05,133.22 L156.77,133.68 L157.49,134.14 L158.21,134.59 L158.93,135.04 L159.65,135.49 L160.37,135.93 L161.09,136.38 L161.81,136.82 L162.53,137.25 L163.25,137.69 L163.97,138.12 L164.69,138.55 L165.42,138.98 L166.14,139.40 L166.86,139.83 L167.58,140.25 L168.30,140.66 L169.02,141.08 L169.74,141.49 L170.46,141.90 L171.18,142.31 L171.90,142.72 L172.62,143.12 L173.34,143.53 L174.06,143.92 L174.78,144.32 L175.50,144.72 L176.23,145.11 L176.95,145.50 L177.67,145.89 L178.39,146.28 L179.11,146.67 L179.83,147.05 L180.55,147.43 L181.27,147.81 L181.99,148.19 L182.71,148.56 L183.43,148.94 L184.15,149.31 L184.87,149.68 L185.59,150.05 L186.31,150.41 L187.03,150.78 L187.76,151.14 L188.48,151.50 L189.20,151.86 L189.92,152.22 L190.64,152.57 L191.36,152.93 L192.08,153.28 L192.80,153.63 L193.52,153.98 L194.24,154.33 L194.96,154.67 L195.68,155.02 L196.40,155.36 L197.12,155.70 L197.84,156.05 L198.56,156.38 L199.29,156.72 L200.01,157.06 L200.73,157.39 L201.45,157.73 L202.17,158.06 L202.89,158.39 L203.61,158.72 L204.33,159.05 L205.05,159.38 L205.77,159.70 L206.49,160.03 L207.21,160.35 L207.93,160.67 L208.65,160.99 L209.37,161.31 L210.10,161.63 L210.82,161.95 L211.54,162.27 L212.26,162.59 L212.98,162.90 L213.70,163.21 L214.42,163.53 L215.14,163.84 L215.86,164.15 L216.58,164.46 L217.30,164.77 L218.02,165.08 L218.74,165.39 L219.46,165.70 L220.18,166.00 L220.90,166.31 L221.63,166.61 L222.35,166.92 L223.07,167.22 L223.79,167.53 L224.51,167.83 L225.23,168.13 L225.95,168.43 L226.67,168.73 L227.39,169.03 L228.11,169.33 L228.83,169.63 L229.55,169.93 L230.27,170.23 L230.99,170.53 L231.71,170.82 L232.44,171.12 L233.16,171.42 L233.88,171.71 L234.60,172.01 L235.32,172.30 L236.04,172.60 L236.76,172.89 L237.48,173.19 L238.20,173.48 L238.92,173.78 L239.64,174.07 L240.36,174.36 L241.08,174.66 L241.80,174.95 L242.52,175.24 L243.24,175.53 L243.97,175.83 L244.69,176.12 L245.41,176.41 L246.13,176.70 L246.85,176.99 L247.57,177.28 L248.29,177.57 L249.01,177.86 L249.73,178.15 L250.45,178.44 L251.17,178.73 L251.89,179.02 L252.61,179.31 L253.33,179.59 L254.05,179.88 L254.77,180.17 L255.50,180.46 L256.22,180.74 L256.94,181.03 L257.66,181.32 L258.38,181.60 L259.10,181.89 L259.82,182.18 L260.54,182.46 L261.26,182.75 L261.98,183.03 L262.70,183.32 L263.42,183.60 L264.14,183.89 L264.86,184.17 L265.58,184.46 L266.31,184.74 L267.03,185.02 L267.75,185.31 L268.47,185.59 L269.19,185.87 L269.91,186.16 L270.63,186.44 L271.35,186.72 L272.07,187.00 L272.79,187.28 L273.51,187.57 L274.23,187.85 L274.95,188.13 L275.67,188.41 L276.39,188.69 L277.11,188.97 L277.84,189.25 L278.56,189.53 L279.28,189.81 L280.00,190.09 L280.72,190.37 L281.44,190.65 L282.16,190.93 L282.88,191.21 L283.60,191.49 L284.32,191.77 L285.04,192.05 L285.76,192.33 L286.48,192.61 L287.20,192.88 L287.92,193.16 L288.65,193.44 L289.37,193.72 L290.09,194.00 L290.81,194.27 L291.53,194.55 L292.25,194.83 L292.97,195.11 L293.69,195.38 L294.41,195.66 L295.13,195.94 L295.85,196.21 L296.57,196.49 L297.29,196.77 L298.01,197.04 L298.73,197.32 L299.45,197.59 L300.18,197.87 L300.90,198.15 L301.62,198.42 L302.34,198.70 L303.06,198.97 L303.78,199.25 L304.50,199.52 L305.22,199.80 L305.94,200.07 L306.66,200.35 L307.38,200.62 L308.10,200.90 L308.82,201.17 L309.54,201.45 L310.26,201.72 L310.98,202.00 L311.71,202.27 L312.43,202.55 L313.15,202.82 L313.87,203.10 L314.59,203.37 L315.31,203.65 L316.03,203.92 L316.75,204.19 L317.47,204.47 L318.19,204.74 L318.91,205.02 L319.63,205.29 L320.35,205.56 L321.07,205.84 L321.79,206.11 L322.52,206.38 L323.24,206.66 L323.96,206.93 L324.68,207.21 L325.40,207.48 L326.12,207.75 L326.84,208.03 L327.56,208.30 L328.28,208.57 L329.00,208.85 L329.72,209.12 L330.44,209.39 L331.16,209.67 L331.88,209.94 L332.60,210.21 L333.32,210.49 L334.05,210.76 L334.77,211.04 L335.49,211.31 L336.21,211.58 L336.93,211.86 L337.65,212.13 L338.37,212.40 L339.09,212.68 L339.81,212.95 L340.53,213.22 L341.25,213.50 L341.97,213.77 L342.69,214.04 L343.41,214.32 L344.13,214.59 L344.86,214.87 L345.58,215.14 L346.30,215.41 L347.02,215.69 L347.74,215.96 L348.46,216.24 L349.18,216.51 L349.90,216.78 L350.62,217.06 L351.34,217.33 L352.06,217.61 L352.78,217.88 L353.50,218.16 L354.22,218.43 L354.94,218.71 L355.66,218.98 L356.39,219.25 L357.11,219.53 L357.83,219.80 L358.55,220.08 L359.27,220.35 L359.99,220.63 L360.71,220.90 L361.43,221.18 L362.15,221.46 L362.87,221.73 L363.59,222.01 L364.31,222.28 L365.03,222.56 L365.75,222.83 L366.47,223.11 L367.19,223.39 L367.92,223.66 L368.64,223.94 L369.36,224.22 L370.08,224.49 L370.80,224.77 L371.52,225.05 L372.24,225.32 L372.96,225.60 L373.68,225.88 L374.40,226.16 L375.12,226.43 L375.84,226.71 L376.56,226.99 L377.28,227.27 L378.00,227.54 L378.73,227.82 L379.45,228.10 L380.17,228.38 L380.89,228.66 L381.61,228.94 L382.33,229.22 L383.05,229.50 L383.77,229.78 L384.49,230.06 L385.21,230.34 L385.93,230.61 L386.65,230.90 L387.37,231.18 L388.09,231.46 L388.81,231.74 L389.53,232.02 L390.26,232.30 L390.98,232.58 L391.70,232.86 L392.42,233.14 L393.14,233.42 L393.86,233.71 L394.58,233.99 L395.30,234.27" fill="none" stroke="#000" stroke-width="2.8"/>
</g>
<rect x="40.2" y="5.45" width="345.30" height="223.70000000000002" fill="none" stroke="#999" stroke-width="1"/>
<g stroke="#999" stroke-width="0.9">
<line x1="40.20" y1="229.15" x2="40.20" y2="224.65"/>
<line x1="40.20" y1="5.45" x2="40.20" y2="9.95"/>
<line x1="57.47" y1="229.15" x2="57.47" y2="226.55"/>
<line x1="57.47" y1="5.45" x2="57.47" y2="8.05"/>
<line x1="74.73" y1="229.15" x2="74.73" y2="226.55"/>
<line x1="74.73" y1="5.45" x2="74.73" y2="8.05"/>
<line x1="92.00" y1="229.15" x2="92.00" y2="226.55"/>
<line x1="92.00" y1="5.45" x2="92.00" y2="8.05"/>
<line x1="109.26" y1="229.15" x2="109.26" y2="224.65"/>
<line x1="109.26" y1="5.45" x2="109.26" y2="9.95"/>
<line x1="126.53" y1="229.15" x2="126.53" y2="226.55"/>
<line x1="126.53" y1="5.45" x2="126.53" y2="8.05"/>
<line x1="143.79" y1="229.15" x2="143.79" y2="226.55"/>
<line x1="143.79" y1="5.45" x2="143.79" y2="8.05"/>
<line x1="161.06" y1="229.15" x2="161.06" y2="226.55"/>
<line x1="161.06" y1="5.45" x2="161.06" y2="8.05"/>
<line x1="178.32" y1="229.15" x2="178.32" y2="224.65"/>
<line x1="178.32" y1="5.45" x2="178.32" y2="9.95"/>
<line x1="195.58" y1="229.15" x2="195.58" y2="226.55"/>
<line x1="195.58" y1="5.45" x2="195.58" y2="8.05"/>
<line x1="212.85" y1="229.15" x2="212.85" y2="226.55"/>
<line x1="212.85" y1="5.45" x2="212.85" y2="8.05"/>
<line x1="230.12" y1="229.15" x2="230.12" y2="226.55"/>
<line x1="230.12" y1="5.45" x2="230.12" y2="8.05"/>
<line x1="247.38" y1="229.15" x2="247.38" y2="224.65"/>
<line x1="247.38" y1="5.45" x2="247.38" y2="9.95"/>
<line x1="264.65" y1="229.15" x2="264.65" y2="226.55"/>
<line x1="264.65" y1="5.45" x2="264.65" y2="8.05"/>
<line x1="281.91" y1="229.15" x2="281.91" y2="226.55"/>
<line x1="281.91" y1="5.45" x2="281.91" y2="8.05"/>
<line x1="299.18" y1="229.15" x2="299.18" y2="226.55"/>
<line x1="299.18" y1="5.45" x2="299.18" y2="8.05"/>
<line x1="316.44" y1="229.15" x2="316.44" y2="224.65"/>
<line x1="316.44" y1="5.45" x2="316.44" y2="9.95"/>
<line x1="333.71" y1="229.15" x2="333.71" y2="226.55"/>
<line x1="333.71" y1="5.45" x2="333.71" y2="8.05"/>
<line x1="350.97" y1="229.15" x2="350.97" y2="226.55"/>
<line x1="350.97" y1="5.45" x2="350.97" y2="8.05"/>
<line x1="368.24" y1="229.15" x2="368.24" y2="226.55"/>
<line x1="368.24" y1="5.45" x2="368.24" y2="8.05"/>
<line x1="385.50" y1="229.15" x2="385.50" y2="224.65"/>
<line x1="385.50" y1="5.45" x2="385.50" y2="9.95"/>
<line x1="40.2" y1="229.15" x2="44.7" y2="229.15"/>
<line x1="385.5" y1="229.15" x2="381.0" y2="229.15"/>
<line x1="40.2" y1="221.69" x2="42.800000000000004" y2="221.69"/>
<line x1="385.5" y1="221.69" x2="382.9" y2="221.69"/>
<line x1="40.2" y1="214.24" x2="42.800000000000004" y2="214.24"/>
<line x1="385.5" y1="214.24" x2="382.9" y2="214.24"/>
<line x1="40.2" y1="206.78" x2="42.800000000000004" y2="206.78"/>
<line x1="385.5" y1="206.78" x2="382.9" y2="206.78"/>
<line x1="40.2" y1="199.32" x2="42.800000000000004" y2="199.32"/>
<line x1="385.5" y1="199.32" x2="382.9" y2="199.32"/>
<line x1="40.2" y1="191.87" x2="44.7" y2="191.87"/>
<line x1="385.5" y1="191.87" x2="381.0" y2="191.87"/>
<line x1="40.2" y1="184.41" x2="42.800000000000004" y2="184.41"/>
<line x1="385.5" y1="184.41" x2="382.9" y2="184.41"/>
<line x1="40.2" y1="176.95" x2="42.800000000000004" y2="176.95"/>
<line x1="385.5" y1="176.95" x2="382.9" y2="176.95"/>
<line x1="40.2" y1="169.50" x2="42.800000000000004" y2="169.50"/>
<line x1="385.5" y1="169.50" x2="382.9" y2="169.50"/>
<line x1="40.2" y1="162.04" x2="42.800000000000004" y2="162.04"/>
<line x1="385.5" y1="162.04" x2="382.9" y2="162.04"/>
<line x1="40.2" y1="154.58" x2="44.7" y2="154.58"/>
<line x1="385.5" y1="154.58" x2="381.0" y2="154.58"/>
<line x1="40.2" y1="147.13" x2="42.800000000000004" y2="147.13"/>
<line x1="385.5" y1="147.13" x2="382.9" y2="147.13"/>
<line x1="40.2" y1="139.67" x2="42.800000000000004" y2="139.67"/>
<line x1="385.5" y1="139.67" x2="382.9" y2="139.67"/>
<line x1="40.2" y1="132.21" x2="42.800000000000004" y2="132.21"/>
<line x1="385.5" y1="132.21" x2="382.9" y2="132.21"/>
<line x1="40.2" y1="124.76" x2="42.800000000000004" y2="124.76"/>
<line x1="385.5" y1="124.76" x2="382.9" y2="124.76"/>
<line x1="40.2" y1="117.30" x2="44.7" y2="117.30"/>
<line x1="385.5" y1="117.30" x2="381.0" y2="117.30"/>
<line x1="40.2" y1="109.84" x2="42.800000000000004" y2="109.84"/>
<line x1="385.5" y1="109.84" x2="382.9" y2="109.84"/>
<line x1="40.2" y1="102.39" x2="42.800000000000004" y2="102.39"/>
<line x1="385.5" y1="102.39" x2="382.9" y2="102.39"/>
<line x1="40.2" y1="94.93" x2="42.800000000000004" y2="94.93"/>
<line x1="385.5" y1="94.93" x2="382.9" y2="94.93"/>
<line x1="40.2" y1="87.47" x2="42.800000000000004" y2="87.47"/>
<line x1="385.5" y1="87.47" x2="382.9" y2="87.47"/>
<line x1="40.2" y1="80.02" x2="44.7" y2="80.02"/>
<line x1="385.5" y1="80.02" x2="381.0" y2="80.02"/>
<line x1="40.2" y1="72.56" x2="42.800000000000004" y2="72.56"/>
<line x1="385.5" y1="72.56" x2="382.9" y2="72.56"/>
<line x1="40.2" y1="65.10" x2="42.800000000000004" y2="65.10"/>
<line x1="385.5" y1="65.10" x2="382.9" y2="65.10"/>
<line x1="40.2" y1="57.65" x2="42.800000000000004" y2="57.65"/>
<line x1="385.5" y1="57.65" x2="382.9" y2="57.65"/>
<line x1="40.2" y1="50.19" x2="42.800000000000004" y2="50.19"/>
<line x1="385.5" y1="50.19" x2="382.9" y2="50.19"/>
<line x1="40.2" y1="42.73" x2="44.7" y2="42.73"/>
<line x1="385.5" y1="42.73" x2="381.0" y2="42.73"/>
<line x1="40.2" y1="35.28" x2="42.800000000000004" y2="35.28"/>
<line x1="385.5" y1="35.28" x2="382.9" y2="35.28"/>
<line x1="40.2" y1="27.82" x2="42.800000000000004" y2="27.82"/>
<line x1="385.5" y1="27.82" x2="382.9" y2="27.82"/>
<line x1="40.2" y1="20.36" x2="42.800000000000004" y2="20.36"/>
<line x1="385.5" y1="20.36" x2="382.9" y2="20.36"/>
<line x1="40.2" y1="12.91" x2="42.800000000000004" y2="12.91"/>
<line x1="385.5" y1="12.91" x2="382.9" y2="12.91"/>
<line x1="40.2" y1="5.45" x2="44.7" y2="5.45"/>
<line x1="385.5" y1="5.45" x2="381.0" y2="5.45"/>
</g>
<g font-family="Liberation Sans, sans-serif" font-size="11" fill="#5e5e5e">
<text x="40.20" y="242.6" text-anchor="middle">−1.0</text>
<text x="109.26" y="242.6" text-anchor="middle">−0.8</text>
<text x="178.32" y="242.6" text-anchor="middle">−0.6</text>
<text x="247.38" y="242.6" text-anchor="middle">−0.4</text>
<text x="316.44" y="242.6" text-anchor="middle">−0.2</text>
<text x="385.50" y="242.6" text-anchor="middle">0.0</text>
<text x="37.2" y="232.45" text-anchor="end">0.5</text>
<text x="37.2" y="195.17" text-anchor="end">1.0</text>
<text x="37.2" y="157.88" text-anchor="end">1.5</text>
<text x="37.2" y="120.60" text-anchor="end">2.0</text>
<text x="37.2" y="83.32" text-anchor="end">2.5</text>
<text x="37.2" y="46.03" text-anchor="end">3.0</text>
<text x="37.2" y="8.75" text-anchor="end">3.5</text>
</g>
<text x="213.0" y="265.0" text-anchor="middle" font-family="Liberation Sans, sans-serif" font-size="13" fill="#5e5e5e">hardness ratio HR</text>
<text transform="translate(8.6,116.8) rotate(-90)" text-anchor="middle" font-family="Liberation Sans, sans-serif" font-size="13" fill="#5e5e5e">photon index Γ</text>

<rect x="438.5" y="3.1" width="231.99" height="230.67" fill="#440154"/>
<g clip-path="url(#ic)">
<g shape-rendering="crispEdges">
<rect x="480.68" y="3.10" width="7.03" height="6.99" fill="#dce319"/>
<rect x="572.07" y="3.10" width="7.03" height="6.99" fill="#dce319"/>
<rect x="529.89" y="10.09" width="14.06" height="6.99" fill="#dce319"/>
<rect x="642.37" y="10.09" width="7.03" height="6.99" fill="#dce319"/>
<rect x="473.65" y="17.08" width="7.03" height="6.99" fill="#dce319"/>
<rect x="565.04" y="17.08" width="7.03" height="6.99" fill="#dce319"/>
<rect x="614.25" y="17.08" width="7.03" height="6.99" fill="#dce319"/>
<rect x="642.37" y="17.08" width="7.03" height="6.99" fill="#dce319"/>
<rect x="522.86" y="24.07" width="7.03" height="6.99" fill="#dce319"/>
<rect x="543.95" y="24.07" width="7.03" height="6.99" fill="#dce319"/>
<rect x="565.04" y="24.07" width="21.09" height="6.99" fill="#dce319"/>
<rect x="649.40" y="24.07" width="7.03" height="6.99" fill="#dce319"/>
<rect x="494.74" y="31.06" width="7.03" height="6.99" fill="#dce319"/>
<rect x="536.92" y="31.06" width="14.06" height="6.99" fill="#dce319"/>
<rect x="558.01" y="31.06" width="14.06" height="6.99" fill="#dce319"/>
<rect x="600.19" y="31.06" width="7.03" height="6.99" fill="#dce319"/>
<rect x="621.28" y="31.06" width="7.03" height="6.99" fill="#3bbb75"/>
<rect x="642.37" y="31.06" width="7.03" height="6.99" fill="#dce319"/>
<rect x="501.77" y="38.05" width="7.03" height="6.99" fill="#dce319"/>
<rect x="529.89" y="38.05" width="7.03" height="6.99" fill="#dce319"/>
<rect x="550.98" y="38.05" width="28.12" height="6.99" fill="#dce319"/>
<rect x="586.13" y="38.05" width="14.06" height="6.99" fill="#dce319"/>
<rect x="607.22" y="38.05" width="14.06" height="6.99" fill="#dce319"/>
<rect x="529.89" y="45.04" width="7.03" height="6.99" fill="#dce319"/>
<rect x="543.95" y="45.04" width="7.03" height="6.99" fill="#dce319"/>
<rect x="550.98" y="45.04" width="7.03" height="6.99" fill="#1fa187"/>
<rect x="558.01" y="45.04" width="35.15" height="6.99" fill="#dce319"/>
<rect x="600.19" y="45.04" width="7.03" height="6.99" fill="#dce319"/>
<rect x="614.25" y="45.04" width="14.06" height="6.99" fill="#dce319"/>
<rect x="445.53" y="52.03" width="21.09" height="6.99" fill="#dce319"/>
<rect x="515.83" y="52.03" width="14.06" height="6.99" fill="#dce319"/>
<rect x="536.92" y="52.03" width="14.06" height="6.99" fill="#dce319"/>
<rect x="550.98" y="52.03" width="7.03" height="6.99" fill="#3bbb75"/>
<rect x="558.01" y="52.03" width="7.03" height="6.99" fill="#472d7b"/>
<rect x="565.04" y="52.03" width="7.03" height="6.99" fill="#21918c"/>
<rect x="572.07" y="52.03" width="7.03" height="6.99" fill="#2c728e"/>
<rect x="579.10" y="52.03" width="7.03" height="6.99" fill="#21918c"/>
<rect x="586.13" y="52.03" width="21.09" height="6.99" fill="#dce319"/>
<rect x="628.31" y="52.03" width="21.09" height="6.99" fill="#dce319"/>
<rect x="452.56" y="59.02" width="7.03" height="6.99" fill="#dce319"/>
<rect x="501.77" y="59.02" width="21.09" height="6.99" fill="#dce319"/>
<rect x="522.86" y="59.02" width="7.03" height="6.99" fill="#1fa187"/>
<rect x="529.89" y="59.02" width="7.03" height="6.99" fill="#dce319"/>
<rect x="543.95" y="59.02" width="7.03" height="6.99" fill="#21918c"/>
<rect x="558.01" y="59.02" width="35.15" height="6.99" fill="#dce319"/>
<rect x="600.19" y="59.02" width="14.06" height="6.99" fill="#dce319"/>
<rect x="621.28" y="59.02" width="7.03" height="6.99" fill="#dce319"/>
<rect x="508.80" y="66.01" width="35.15" height="6.99" fill="#dce319"/>
<rect x="543.95" y="66.01" width="7.03" height="6.99" fill="#21918c"/>
<rect x="550.98" y="66.01" width="7.03" height="6.99" fill="#dce319"/>
<rect x="558.01" y="66.01" width="7.03" height="6.99" fill="#21918c"/>
<rect x="565.04" y="66.01" width="42.18" height="6.99" fill="#dce319"/>
<rect x="614.25" y="66.01" width="14.06" height="6.99" fill="#dce319"/>
<rect x="501.77" y="73.00" width="7.03" height="6.99" fill="#dce319"/>
<rect x="515.83" y="73.00" width="21.09" height="6.99" fill="#dce319"/>
<rect x="536.92" y="73.00" width="7.03" height="6.99" fill="#7ad151"/>
<rect x="565.04" y="73.00" width="14.06" height="6.99" fill="#3bbb75"/>
<rect x="586.13" y="73.00" width="7.03" height="6.99" fill="#7ad151"/>
<rect x="593.16" y="73.00" width="14.06" height="6.99" fill="#dce319"/>
<rect x="614.25" y="73.00" width="7.03" height="6.99" fill="#dce319"/>
<rect x="628.31" y="73.00" width="7.03" height="6.99" fill="#dce319"/>
<rect x="501.77" y="79.99" width="14.06" height="6.99" fill="#dce319"/>
<rect x="522.86" y="79.99" width="7.03" height="6.99" fill="#2c728e"/>
<rect x="529.89" y="79.99" width="21.09" height="6.99" fill="#dce319"/>
<rect x="550.98" y="79.99" width="7.03" height="6.99" fill="#3b528b"/>
<rect x="558.01" y="79.99" width="7.03" height="6.99" fill="#21918c"/>
<rect x="565.04" y="79.99" width="7.03" height="6.99" fill="#3bbb75"/>
<rect x="572.07" y="79.99" width="7.03" height="6.99" fill="#3b528b"/>
<rect x="579.10" y="79.99" width="14.06" height="6.99" fill="#dce319"/>
<rect x="593.16" y="79.99" width="7.03" height="6.99" fill="#3bbb75"/>
<rect x="600.19" y="79.99" width="7.03" height="6.99" fill="#dce319"/>
<rect x="621.28" y="79.99" width="7.03" height="6.99" fill="#dce319"/>
<rect x="635.34" y="79.99" width="14.06" height="6.99" fill="#dce319"/>
<rect x="466.62" y="86.98" width="21.09" height="6.99" fill="#dce319"/>
<rect x="494.74" y="86.98" width="7.03" height="6.99" fill="#dce319"/>
<rect x="508.80" y="86.98" width="14.06" height="6.99" fill="#dce319"/>
<rect x="522.86" y="86.98" width="7.03" height="6.99" fill="#21918c"/>
<rect x="529.89" y="86.98" width="7.03" height="6.99" fill="#3bbb75"/>
<rect x="536.92" y="86.98" width="7.03" height="6.99" fill="#7ad151"/>
<rect x="543.95" y="86.98" width="7.03" height="6.99" fill="#21918c"/>
<rect x="550.98" y="86.98" width="7.03" height="6.99" fill="#2c728e"/>
<rect x="558.01" y="86.98" width="7.03" height="6.99" fill="#3bbb75"/>
<rect x="565.04" y="86.98" width="7.03" height="6.99" fill="#b5de2b"/>
<rect x="572.07" y="86.98" width="7.03" height="6.99" fill="#3b528b"/>
<rect x="586.13" y="86.98" width="28.12" height="6.99" fill="#dce319"/>
<rect x="452.56" y="93.97" width="21.09" height="6.99" fill="#dce319"/>
<rect x="480.68" y="93.97" width="49.21" height="6.99" fill="#dce319"/>
<rect x="558.01" y="93.97" width="7.03" height="6.99" fill="#1fa187"/>
<rect x="565.04" y="93.97" width="7.03" height="6.99" fill="#7ad151"/>
<rect x="572.07" y="93.97" width="63.27" height="6.99" fill="#dce319"/>
<rect x="438.50" y="100.96" width="7.03" height="6.99" fill="#dce319"/>
<rect x="452.56" y="100.96" width="14.06" height="6.99" fill="#dce319"/>
<rect x="473.65" y="100.96" width="7.03" height="6.99" fill="#dce319"/>
<rect x="494.74" y="100.96" width="49.21" height="6.99" fill="#dce319"/>
<rect x="543.95" y="100.96" width="7.03" height="6.99" fill="#1fa187"/>
<rect x="558.01" y="100.96" width="7.03" height="6.99" fill="#21918c"/>
<rect x="565.04" y="100.96" width="7.03" height="6.99" fill="#3bbb75"/>
<rect x="572.07" y="100.96" width="28.12" height="6.99" fill="#dce319"/>
<rect x="607.22" y="100.96" width="28.12" height="6.99" fill="#dce319"/>
<rect x="642.37" y="100.96" width="7.03" height="6.99" fill="#dce319"/>
<rect x="656.43" y="100.96" width="7.03" height="6.99" fill="#dce319"/>
<rect x="452.56" y="107.95" width="7.03" height="6.99" fill="#dce319"/>
<rect x="466.62" y="107.95" width="56.24" height="6.99" fill="#dce319"/>
<rect x="529.89" y="107.95" width="7.03" height="6.99" fill="#dce319"/>
<rect x="543.95" y="107.95" width="7.03" height="6.99" fill="#2c728e"/>
<rect x="550.98" y="107.95" width="7.03" height="6.99" fill="#472d7b"/>
<rect x="558.01" y="107.95" width="7.03" height="6.99" fill="#21918c"/>
<rect x="565.04" y="107.95" width="7.03" height="6.99" fill="#3bbb75"/>
<rect x="572.07" y="107.95" width="14.06" height="6.99" fill="#7ad151"/>
<rect x="586.13" y="107.95" width="7.03" height="6.99" fill="#b5de2b"/>
<rect x="593.16" y="107.95" width="14.06" height="6.99" fill="#1fa187"/>
<rect x="607.22" y="107.95" width="28.12" height="6.99" fill="#dce319"/>
<rect x="459.59" y="114.94" width="70.30" height="6.99" fill="#dce319"/>
<rect x="529.89" y="114.94" width="7.03" height="6.99" fill="#21918c"/>
<rect x="536.92" y="114.94" width="7.03" height="6.99" fill="#dce319"/>
<rect x="550.98" y="114.94" width="7.03" height="6.99" fill="#3b528b"/>
<rect x="558.01" y="114.94" width="7.03" height="6.99" fill="#2c728e"/>
<rect x="565.04" y="114.94" width="7.03" height="6.99" fill="#1fa187"/>
<rect x="572.07" y="114.94" width="21.09" height="6.99" fill="#7ad151"/>
<rect x="600.19" y="114.94" width="42.18" height="6.99" fill="#dce319"/>
<rect x="445.53" y="121.93" width="7.03" height="6.99" fill="#dce319"/>
<rect x="480.68" y="121.93" width="7.03" height="6.99" fill="#2c728e"/>
<rect x="487.71" y="121.93" width="21.09" height="6.99" fill="#dce319"/>
<rect x="508.80" y="121.93" width="7.03" height="6.99" fill="#7ad151"/>
<rect x="515.83" y="121.93" width="7.03" height="6.99" fill="#3bbb75"/>
<rect x="522.86" y="121.93" width="7.03" height="6.99" fill="#dce319"/>
<rect x="529.89" y="121.93" width="7.03" height="6.99" fill="#1fa187"/>
<rect x="550.98" y="121.93" width="7.03" height="6.99" fill="#472d7b"/>
<rect x="558.01" y="121.93" width="7.03" height="6.99" fill="#21918c"/>
<rect x="565.04" y="121.93" width="7.03" height="6.99" fill="#1fa187"/>
<rect x="572.07" y="121.93" width="14.06" height="6.99" fill="#3bbb75"/>
<rect x="586.13" y="121.93" width="7.03" height="6.99" fill="#7ad151"/>
<rect x="607.22" y="121.93" width="21.09" height="6.99" fill="#dce319"/>
<rect x="656.43" y="121.93" width="7.03" height="6.99" fill="#dce319"/>
<rect x="452.56" y="128.92" width="49.21" height="6.99" fill="#dce319"/>
<rect x="508.80" y="128.92" width="21.09" height="6.99" fill="#1fa187"/>
<rect x="543.95" y="128.92" width="7.03" height="6.99" fill="#2c728e"/>
<rect x="550.98" y="128.92" width="7.03" height="6.99" fill="#3b528b"/>
<rect x="558.01" y="128.92" width="7.03" height="6.99" fill="#2c728e"/>
<rect x="565.04" y="128.92" width="21.09" height="6.99" fill="#21918c"/>
<rect x="586.13" y="128.92" width="7.03" height="6.99" fill="#3bbb75"/>
<rect x="593.16" y="128.92" width="7.03" height="6.99" fill="#7ad151"/>
<rect x="600.19" y="128.92" width="7.03" height="6.99" fill="#b5de2b"/>
<rect x="607.22" y="128.92" width="21.09" height="6.99" fill="#dce319"/>
<rect x="649.40" y="128.92" width="7.03" height="6.99" fill="#dce319"/>
<rect x="438.50" y="135.91" width="7.03" height="6.99" fill="#dce319"/>
<rect x="452.56" y="135.91" width="7.03" height="6.99" fill="#21918c"/>
<rect x="466.62" y="135.91" width="7.03" height="6.99" fill="#dce319"/>
<rect x="487.71" y="135.91" width="7.03" height="6.99" fill="#dce319"/>
<rect x="508.80" y="135.91" width="14.06" height="6.99" fill="#21918c"/>
<rect x="522.86" y="135.91" width="7.03" height="6.99" fill="#3b528b"/>
<rect x="536.92" y="135.91" width="7.03" height="6.99" fill="#2c728e"/>
<rect x="543.95" y="135.91" width="14.06" height="6.99" fill="#21918c"/>
<rect x="558.01" y="135.91" width="7.03" height="6.99" fill="#2c728e"/>
<rect x="565.04" y="135.91" width="7.03" height="6.99" fill="#472d7b"/>
<rect x="572.07" y="135.91" width="7.03" height="6.99" fill="#3b528b"/>
<rect x="579.10" y="135.91" width="7.03" height="6.99" fill="#21918c"/>
<rect x="586.13" y="135.91" width="7.03" height="6.99" fill="#3bbb75"/>
<rect x="593.16" y="135.91" width="14.06" height="6.99" fill="#7ad151"/>
<rect x="607.22" y="135.91" width="21.09" height="6.99" fill="#dce319"/>
<rect x="452.56" y="142.90" width="7.03" height="6.99" fill="#dce319"/>
<rect x="473.65" y="142.90" width="42.18" height="6.99" fill="#dce319"/>
<rect x="515.83" y="142.90" width="7.03" height="6.99" fill="#1fa187"/>
<rect x="522.86" y="142.90" width="7.03" height="6.99" fill="#2c728e"/>
<rect x="529.89" y="142.90" width="7.03" height="6.99" fill="#3bbb75"/>
<rect x="536.92" y="142.90" width="7.03" height="6.99" fill="#2c728e"/>
<rect x="543.95" y="142.90" width="14.06" height="6.99" fill="#1fa187"/>
<rect x="565.04" y="142.90" width="7.03" height="6.99" fill="#dce319"/>
<rect x="579.10" y="142.90" width="7.03" height="6.99" fill="#21918c"/>
<rect x="586.13" y="142.90" width="7.03" height="6.99" fill="#3bbb75"/>
<rect x="593.16" y="142.90" width="7.03" height="6.99" fill="#dce319"/>
<rect x="600.19" y="142.90" width="7.03" height="6.99" fill="#3bbb75"/>
<rect x="607.22" y="142.90" width="21.09" height="6.99" fill="#dce319"/>
<rect x="438.50" y="149.89" width="7.03" height="6.99" fill="#dce319"/>
<rect x="452.56" y="149.89" width="7.03" height="6.99" fill="#dce319"/>
<rect x="466.62" y="149.89" width="7.03" height="6.99" fill="#21918c"/>
<rect x="473.65" y="149.89" width="7.03" height="6.99" fill="#dce319"/>
<rect x="508.80" y="149.89" width="7.03" height="6.99" fill="#3bbb75"/>
<rect x="515.83" y="149.89" width="7.03" height="6.99" fill="#2c728e"/>
<rect x="522.86" y="149.89" width="7.03" height="6.99" fill="#7ad151"/>
<rect x="529.89" y="149.89" width="7.03" height="6.99" fill="#b5de2b"/>
<rect x="536.92" y="149.89" width="7.03" height="6.99" fill="#7ad151"/>
<rect x="543.95" y="149.89" width="7.03" height="6.99" fill="#dce319"/>
<rect x="550.98" y="149.89" width="7.03" height="6.99" fill="#2c728e"/>
<rect x="558.01" y="149.89" width="14.06" height="6.99" fill="#dce319"/>
<rect x="572.07" y="149.89" width="7.03" height="6.99" fill="#21918c"/>
<rect x="579.10" y="149.89" width="14.06" height="6.99" fill="#2c728e"/>
<rect x="593.16" y="149.89" width="7.03" height="6.99" fill="#21918c"/>
<rect x="600.19" y="149.89" width="7.03" height="6.99" fill="#2c728e"/>
<rect x="607.22" y="149.89" width="14.06" height="6.99" fill="#dce319"/>
<rect x="656.43" y="149.89" width="7.03" height="6.99" fill="#dce319"/>
<rect x="466.62" y="156.88" width="7.03" height="6.99" fill="#dce319"/>
<rect x="487.71" y="156.88" width="7.03" height="6.99" fill="#dce319"/>
<rect x="494.74" y="156.88" width="7.03" height="6.99" fill="#1fa187"/>
<rect x="501.77" y="156.88" width="14.06" height="6.99" fill="#2c728e"/>
<rect x="515.83" y="156.88" width="7.03" height="6.99" fill="#7ad151"/>
<rect x="522.86" y="156.88" width="7.03" height="6.99" fill="#3b528b"/>
<rect x="529.89" y="156.88" width="7.03" height="6.99" fill="#dce319"/>
<rect x="536.92" y="156.88" width="7.03" height="6.99" fill="#3bbb75"/>
<rect x="543.95" y="156.88" width="7.03" height="6.99" fill="#7ad151"/>
<rect x="550.98" y="156.88" width="7.03" height="6.99" fill="#3b528b"/>
<rect x="558.01" y="156.88" width="28.12" height="6.99" fill="#dce319"/>
<rect x="586.13" y="156.88" width="7.03" height="6.99" fill="#7ad151"/>
<rect x="593.16" y="156.88" width="35.15" height="6.99" fill="#dce319"/>
<rect x="656.43" y="156.88" width="7.03" height="6.99" fill="#dce319"/>
<rect x="480.68" y="163.87" width="21.09" height="6.99" fill="#dce319"/>
<rect x="501.77" y="163.87" width="7.03" height="6.99" fill="#1fa187"/>
<rect x="508.80" y="163.87" width="7.03" height="6.99" fill="#2c728e"/>
<rect x="536.92" y="163.87" width="28.12" height="6.99" fill="#dce319"/>
<rect x="572.07" y="163.87" width="7.03" height="6.99" fill="#dce319"/>
<rect x="579.10" y="163.87" width="7.03" height="6.99" fill="#21918c"/>
<rect x="586.13" y="163.87" width="35.15" height="6.99" fill="#dce319"/>
<rect x="642.37" y="163.87" width="7.03" height="6.99" fill="#dce319"/>
<rect x="480.68" y="170.86" width="7.03" height="6.99" fill="#dce319"/>
<rect x="494.74" y="170.86" width="7.03" height="6.99" fill="#dce319"/>
<rect x="501.77" y="170.86" width="7.03" height="6.99" fill="#1fa187"/>
<rect x="515.83" y="170.86" width="7.03" height="6.99" fill="#dce319"/>
<rect x="522.86" y="170.86" width="7.03" height="6.99" fill="#7ad151"/>
<rect x="529.89" y="170.86" width="21.09" height="6.99" fill="#dce319"/>
<rect x="558.01" y="170.86" width="7.03" height="6.99" fill="#dce319"/>
<rect x="593.16" y="170.86" width="28.12" height="6.99" fill="#dce319"/>
<rect x="642.37" y="170.86" width="7.03" height="6.99" fill="#dce319"/>
<rect x="480.68" y="177.85" width="7.03" height="6.99" fill="#dce319"/>
<rect x="487.71" y="177.85" width="7.03" height="6.99" fill="#21918c"/>
<rect x="494.74" y="177.85" width="7.03" height="6.99" fill="#dce319"/>
<rect x="501.77" y="177.85" width="14.06" height="6.99" fill="#3bbb75"/>
<rect x="522.86" y="177.85" width="7.03" height="6.99" fill="#21918c"/>
<rect x="529.89" y="177.85" width="63.27" height="6.99" fill="#dce319"/>
<rect x="600.19" y="177.85" width="21.09" height="6.99" fill="#dce319"/>
<rect x="635.34" y="177.85" width="7.03" height="6.99" fill="#dce319"/>
<rect x="649.40" y="177.85" width="7.03" height="6.99" fill="#dce319"/>
<rect x="473.65" y="184.84" width="7.03" height="6.99" fill="#3b528b"/>
<rect x="480.68" y="184.84" width="14.06" height="6.99" fill="#dce319"/>
<rect x="501.77" y="184.84" width="49.21" height="6.99" fill="#dce319"/>
<rect x="572.07" y="184.84" width="21.09" height="6.99" fill="#dce319"/>
<rect x="607.22" y="184.84" width="7.03" height="6.99" fill="#dce319"/>
<rect x="473.65" y="191.83" width="14.06" height="6.99" fill="#dce319"/>
<rect x="487.71" y="191.83" width="7.03" height="6.99" fill="#b5de2b"/>
<rect x="494.74" y="191.83" width="70.30" height="6.99" fill="#dce319"/>
<rect x="579.10" y="191.83" width="14.06" height="6.99" fill="#dce319"/>
<rect x="600.19" y="191.83" width="7.03" height="6.99" fill="#dce319"/>
<rect x="635.34" y="191.83" width="7.03" height="6.99" fill="#dce319"/>
<rect x="494.74" y="198.82" width="28.12" height="6.99" fill="#dce319"/>
<rect x="529.89" y="198.82" width="14.06" height="6.99" fill="#dce319"/>
<rect x="543.95" y="198.82" width="7.03" height="6.99" fill="#472d7b"/>
<rect x="550.98" y="198.82" width="7.03" height="6.99" fill="#dce319"/>
<rect x="565.04" y="198.82" width="14.06" height="6.99" fill="#dce319"/>
<rect x="607.22" y="198.82" width="7.03" height="6.99" fill="#dce319"/>
<rect x="649.40" y="198.82" width="7.03" height="6.99" fill="#dce319"/>
<rect x="480.68" y="205.81" width="14.06" height="6.99" fill="#dce319"/>
<rect x="501.77" y="205.81" width="14.06" height="6.99" fill="#dce319"/>
<rect x="522.86" y="205.81" width="14.06" height="6.99" fill="#dce319"/>
<rect x="543.95" y="205.81" width="7.03" height="6.99" fill="#dce319"/>
<rect x="565.04" y="205.81" width="49.21" height="6.99" fill="#dce319"/>
<rect x="621.28" y="205.81" width="7.03" height="6.99" fill="#dce319"/>
<rect x="466.62" y="212.80" width="7.03" height="6.99" fill="#dce319"/>
<rect x="487.71" y="212.80" width="7.03" height="6.99" fill="#dce319"/>
<rect x="508.80" y="212.80" width="21.09" height="6.99" fill="#dce319"/>
<rect x="536.92" y="212.80" width="14.06" height="6.99" fill="#dce319"/>
<rect x="558.01" y="212.80" width="28.12" height="6.99" fill="#dce319"/>
<rect x="445.53" y="219.79" width="7.03" height="6.99" fill="#dce319"/>
<rect x="473.65" y="219.79" width="7.03" height="6.99" fill="#dce319"/>
<rect x="508.80" y="219.79" width="7.03" height="6.99" fill="#dce319"/>
<rect x="522.86" y="219.79" width="14.06" height="6.99" fill="#dce319"/>
<rect x="550.98" y="219.79" width="7.03" height="6.99" fill="#dce319"/>
<rect x="565.04" y="219.79" width="21.09" height="6.99" fill="#dce319"/>
<rect x="593.16" y="219.79" width="7.03" height="6.99" fill="#dce319"/>
<rect x="607.22" y="219.79" width="7.03" height="6.99" fill="#dce319"/>
<rect x="649.40" y="219.79" width="7.03" height="6.99" fill="#dce319"/>
</g>
<circle cx="526.2" cy="27.9" r="0.8" fill="#fff"/>
<circle cx="589.2" cy="55.4" r="0.6" fill="#fff"/>
<circle cx="484.0" cy="125.2" r="1.0" fill="#fff"/>
<circle cx="574.7" cy="202.6" r="0.7" fill="#fff"/>
<circle cx="547.2" cy="206.2" r="0.6" fill="#fff"/>
<circle cx="589.7" cy="145.3" r="1.0" fill="#fff"/>
<circle cx="442.0" cy="125.6" r="0.6" fill="#fff"/>
<circle cx="617.3" cy="41.3" r="0.6" fill="#fff"/>
<circle cx="645.3" cy="34.7" r="0.6" fill="#fff"/>
<circle cx="456.3" cy="230.6" r="0.5" fill="#fff"/>
<circle cx="580.5" cy="53.0" r="0.5" fill="#fff"/>
<circle cx="562.0" cy="80.0" r="0.5" fill="#fff"/>
<circle cx="568.3" cy="118.8" r="0.7" fill="#fff"/>
<circle cx="483.7" cy="167.6" r="0.7" fill="#fff"/>
<g fill="none" stroke="#fff" stroke-width="1.15" stroke-linejoin="round">
<polygon points="548.7,41.2 553.7,36.3 560.4,35.7 564.4,41.2 562.2,46.4 554.4,47.6"/>
<polygon points="535.7,55.4 539.5,52.1 544.0,52.7 549.9,51.6 555.1,51.6 558.9,55.7 555.9,59.9 550.7,58.7 544.0,59.1 539.5,60.6 536.5,58.4"/>
<polygon points="545.5,79.0 538.3,78.4 531.6,79.9 528.6,84.4 530.1,88.9 535.3,91.9 539.8,92.6 543.3,94.4 546.5,91.7 548.5,86.0 549.8,80.5"/>
<polygon points="501.2,106.7 504.2,100.7 512.5,100.3 519.9,103.5 518.4,105.4 504.9,111.2"/>
<polygon points="553.0,91.5 554.6,89.0 556.3,91.5 554.6,93.9"/>
<polygon points="477.8,124.8 481.1,117.6 487.6,115.0 491.6,121.5 491.6,124.8 485.0,132.0 481.1,128.7"/>
<polygon points="502.5,170.0 505.5,165.7 509.2,168.5 506.5,174.6"/>
<polygon points="528.2,178.2 533.8,172.6 540.5,171.5 542.7,174.8 536.0,181.5 529.3,181.5"/>
<polygon points="477.8,167.0 483.7,161.5 490.3,167.0 497.0,169.3 491.6,178.1 488.0,173.0"/>
<polygon points="479.9,196.0 484.3,191.3 488.7,196.0 484.3,200.7"/>
<polygon points="487.7,189.0 491.1,186.0 494.5,189.0 491.1,191.8"/>
<polygon points="491.9,199.0 494.5,192.5 498.4,189.7 502.5,192.5 504.9,199.0 502.5,205.5 498.4,209.0 494.5,205.5"/>
<polygon points="451.5,97.6 456.5,92.6 461.5,97.6 456.5,102.6"/>
<polygon points="440.1,125.6 442.0,123.7 443.9,125.6 442.0,127.5"/>
<polygon points="465.0,153.7 470.0,148.7 475.0,153.7 470.0,158.7"/>
<polygon points="571.4,188.6 575.8,184.2 580.2,188.6 575.8,193.0"/>
<polygon points="543.4,202.6 547.3,198.7 551.2,202.6 547.3,206.5"/>
<polygon points="563.2,216.3 568.6,210.9 574.0,216.3 568.6,221.7"/>
<polygon points="516.1,216.7 519.5,213.6 522.9,216.7 519.5,219.8"/>
<polygon points="531.4,223.8 533.3,221.9 535.2,223.8 533.3,225.7"/>
<polygon points="454.4,230.6 456.3,229.0 458.2,230.6 456.3,232.2"/>
<polygon points="615.7,41.3 617.3,39.7 618.9,41.3 617.3,42.9"/>
<polygon points="643.7,34.7 645.3,33.1 646.9,34.7 645.3,36.3"/>
<polygon points="649.5,111.6 652.5,108.6 655.5,111.6 652.5,114.6"/>
<polyline points="501.7,160.0 503.2,155.8 505.1,146.9 505.4,134.9 506.2,125.2 511.4,120.7 517.4,124.5 523.4,127.5 529.3,130.4 533.8,133.4 538.3,134.2 542.8,131.2 546.5,126.0 547.7,118.0 547.5,111.9 546.8,104.0 545.8,99.2 542.5,99.9 538.8,102.2 535.1,104.4 530.6,104.4 525.4,100.7 522.4,94.0 521.9,87.4 522.6,81.4 525.6,77.7 529.3,73.5 528.0,68.5 528.1,63.6 530.3,59.9 533.3,58.4 535.5,59.9 537.8,62.1 540.5,64.5 544.5,71.2 548.2,74.9 553.4,75.7 559.4,74.2 563.1,71.9 564.6,64.0 567.1,59.1 571.6,57.6 575.3,62.1 576.8,65.8 575.1,69.0 572.1,76.4 569.9,82.4 569.2,90.0 569.9,94.5 574.4,99.0 581.1,103.4 587.1,107.2 590.8,112.4 593.1,118.4 596.0,123.6 600.5,126.6 605.0,128.1 606.6,134.5 603.6,139.0 601.3,144.9 599.6,148.0 598.8,152.5 596.6,159.9 593.6,165.9 589.9,169.6 586.9,168.9 582.4,162.9 579.6,155.8 577.3,150.6 573.6,147.6 569.9,146.1 566.1,146.1 560.9,146.1 557.9,148.4 553.4,152.8 549.0,160.0 547.9,163.6 541.9,162.1 537.2,160.1 533.9,163.4 526.0,165.7 521.5,167.9 520.4,174.6 517.1,181.4 510.3,185.9 503.6,183.6 499.1,176.9 498.0,167.9 501.7,160.0"/>
<polyline points="566.2,86.0 566.0,79.0 564.0,75.5 558.0,77.5 551.2,79.4 545.5,79.0 538.3,78.4 531.6,79.9 528.6,84.4 530.1,88.9 532.1,91.0 538.8,94.0 542.5,92.5 544.8,91.0 547.3,91.7 548.2,97.0 548.9,104.8 550.1,115.0 550.2,122.0 548.5,129.0 545.0,137.9 542.8,139.4 538.3,142.4 533.8,143.1 530.8,140.9 526.3,136.4 523.4,132.7 518.9,129.7 514.4,129.0 509.9,131.2 509.2,142.4 509.2,151.3 511.4,155.8 516.6,157.3 521.9,155.8 526.3,152.1 531.6,150.6 536.8,150.6 541.3,152.1 546.0,153.6 551.9,150.6 556.4,146.9 560.9,143.1 565.4,142.4 571.3,142.4 575.8,143.1 579.6,146.1 581.8,149.9 583.3,154.3 586.1,159.2 589.1,162.9 592.1,159.9 594.3,155.4 595.8,149.5 597.6,141.9 596.1,136.0 593.9,132.3 591.6,126.3 589.3,121.3 587.1,116.1 584.1,110.9 579.6,106.4 572.9,101.9 567.7,96.0 566.2,86.0"/>
<polyline points="555.2,106.0 555.0,98.3 557.0,95.0 560.0,93.0 562.5,95.0 564.7,99.0 569.9,106.4 575.1,112.4 578.9,118.4 580.4,124.3 579.6,130.0 576.6,134.9 571.3,136.4 564.6,137.2 559.4,134.9 555.7,130.4 555.3,120.0 555.2,106.0"/>
</g>
<line x1="464" y1="208.3" x2="498.2" y2="176.2" stroke="#08e6f6" stroke-width="1.1"/>
<text transform="translate(470.4,195.1) rotate(-45)" text-anchor="middle" font-family="Liberation Serif, serif" font-size="10.5" fill="#08e6f6">Jet</text>
<text transform="translate(597.1,17.9) scale(0.9,1)" font-family="Liberation Serif, serif" font-size="12.2" fill="#00eeff">Photon Index</text>
</g>
<rect x="438.9" y="3.5" width="231.19" height="229.87" fill="none" stroke="#1a0024" stroke-opacity="0.55" stroke-width="0.8"/>
<g font-family="Liberation Serif, serif" font-size="6.6" fill="#111" stroke="#111" stroke-width="0.12">
<text transform="translate(457.10,243.3) scale(0.97,1)" text-anchor="middle">26.7</text>
<text transform="translate(486.90,243.3) scale(0.97,1)" text-anchor="middle">26.6</text>
<text transform="translate(516.70,243.3) scale(0.97,1)" text-anchor="middle">26.5</text>
<text transform="translate(546.50,243.3) scale(0.97,1)" text-anchor="middle">26.4</text>
<text transform="translate(576.30,243.3) scale(0.97,1)" text-anchor="middle">26.3</text>
<text transform="translate(606.10,243.3) scale(0.97,1)" text-anchor="middle">26.2</text>
<text transform="translate(635.90,243.3) scale(0.97,1)" text-anchor="middle">26.1</text>
<text transform="translate(665.70,243.3) scale(0.97,1)" text-anchor="middle">5:19:26.0</text>
<text transform="translate(433.9,29.00) rotate(-90) scale(0.96,1)" text-anchor="middle">51.0</text>
<text transform="translate(433.9,57.40) rotate(-90) scale(0.96,1)" text-anchor="middle">52.0</text>
<text transform="translate(433.9,85.80) rotate(-90) scale(0.96,1)" text-anchor="middle">53.0</text>
<text transform="translate(433.9,114.20) rotate(-90) scale(0.96,1)" text-anchor="middle">54.0</text>
<text transform="translate(433.9,142.60) rotate(-90) scale(0.96,1)" text-anchor="middle">-45:45:55.0</text>
<text transform="translate(433.9,171.00) rotate(-90) scale(0.96,1)" text-anchor="middle">56.0</text>
<text transform="translate(433.9,199.40) rotate(-90) scale(0.96,1)" text-anchor="middle">57.0</text>
<text transform="translate(433.9,227.80) rotate(-90) scale(0.96,1)" text-anchor="middle">58.0</text>
<text x="556" y="253.3" text-anchor="middle">Right Ascension</text>
<text transform="translate(409.6,115.9) rotate(-90)" text-anchor="middle">Declination</text>
</g>
<g font-family="Liberation Serif, serif" font-size="8.2" fill="#111" stroke="#111" stroke-width="0.25">
<rect x="696.9" y="2.9" width="5.8" height="230.90" fill="url(#cbg)"/>
<line x1="701.7" y1="29.50" x2="702.7" y2="29.50" stroke="#333" stroke-width="0.6"/>
<line x1="701.7" y1="78.50" x2="702.7" y2="78.50" stroke="#333" stroke-width="0.6"/>
<line x1="701.7" y1="116.70" x2="702.7" y2="116.70" stroke="#333" stroke-width="0.6"/>
<line x1="701.7" y1="174.70" x2="702.7" y2="174.70" stroke="#333" stroke-width="0.6"/>
<line x1="701.7" y1="220.20" x2="702.7" y2="220.20" stroke="#333" stroke-width="0.6"/>
<text transform="translate(704.7,32.30) scale(0.92,1)">2.7</text>
<text transform="translate(704.7,81.30) scale(0.92,1)">2.1</text>
<text transform="translate(704.7,119.50) scale(0.92,1)">1.6</text>
<text transform="translate(704.7,177.50) scale(0.92,1)">1.3</text>
<text transform="translate(704.7,223.00) scale(0.92,1)">1.1</text>
</g>
</svg>
</body></html>
